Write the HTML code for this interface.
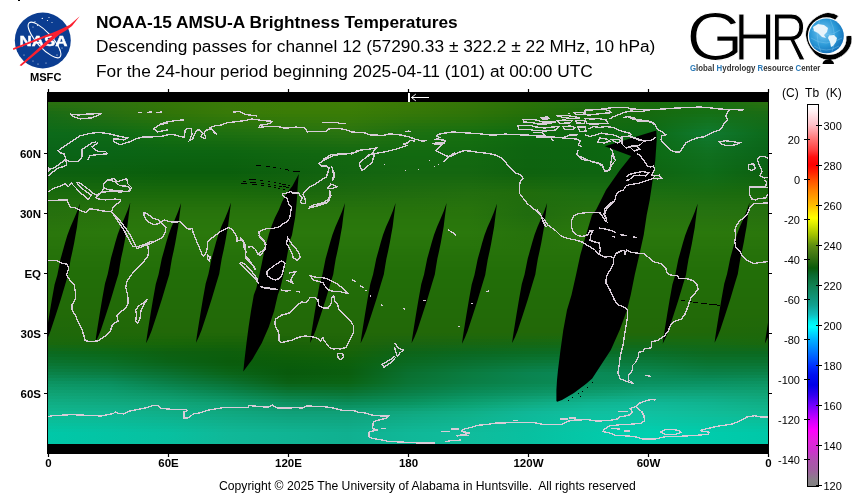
<!DOCTYPE html>
<html><head><meta charset="utf-8"><title>NOAA-15 AMSU-A Brightness Temperatures</title>
<style>
html,body{margin:0;padding:0;background:#fff;}
body{width:854px;height:502px;position:relative;overflow:hidden;font-family:"Liberation Sans",Arial,sans-serif;color:#000;}
.t{position:absolute;white-space:nowrap;font-size:16px;line-height:1;transform-origin:0 0;transform:scaleX(1.081);}
#t1{left:96px;top:15px;font-weight:bold;}
#t2{left:96px;top:39px;}
#t3{left:96px;top:64px;}
#copy{position:absolute;left:219px;top:480px;transform-origin:0 0;transform:scaleX(1.016);font-size:12px;line-height:1;white-space:nowrap;}
svg{position:absolute;left:0;top:0;}
</style></head>
<body>
<svg id="main" width="854" height="502" viewBox="0 0 854 502">
<defs>
<linearGradient id="cbar" x1="0" y1="104.5" x2="0" y2="486.5" gradientUnits="userSpaceOnUse"><stop offset="0.0013" stop-color="#ffffff"/><stop offset="0.0144" stop-color="#fff4f6"/><stop offset="0.0537" stop-color="#ffc0c8"/><stop offset="0.0929" stop-color="#ff7070"/><stop offset="0.1191" stop-color="#ff4040"/><stop offset="0.1374" stop-color="#ff1010"/><stop offset="0.1584" stop-color="#ff0000"/><stop offset="0.1767" stop-color="#ff2000"/><stop offset="0.1976" stop-color="#ff5000"/><stop offset="0.2238" stop-color="#ff8000"/><stop offset="0.2500" stop-color="#ffa800"/><stop offset="0.2657" stop-color="#ffc000"/><stop offset="0.2840" stop-color="#ffe800"/><stop offset="0.2971" stop-color="#ffff00"/><stop offset="0.3154" stop-color="#d8e800"/><stop offset="0.3416" stop-color="#a0c000"/><stop offset="0.3678" stop-color="#609010"/><stop offset="0.3861" stop-color="#4a7c14"/><stop offset="0.4071" stop-color="#2c6a10"/><stop offset="0.4280" stop-color="#0a5a0a"/><stop offset="0.4463" stop-color="#0a6a30"/><stop offset="0.4725" stop-color="#108050"/><stop offset="0.4987" stop-color="#109070"/><stop offset="0.5249" stop-color="#10a090"/><stop offset="0.5510" stop-color="#10c0c0"/><stop offset="0.5694" stop-color="#00f0f0"/><stop offset="0.5825" stop-color="#00ffff"/><stop offset="0.5955" stop-color="#00e0ff"/><stop offset="0.6165" stop-color="#00b0ff"/><stop offset="0.6427" stop-color="#0080ff"/><stop offset="0.6688" stop-color="#0050ff"/><stop offset="0.6846" stop-color="#0030ff"/><stop offset="0.7081" stop-color="#0010f0"/><stop offset="0.7343" stop-color="#0000e8"/><stop offset="0.7605" stop-color="#3000f0"/><stop offset="0.7866" stop-color="#7000ff"/><stop offset="0.7997" stop-color="#9000ff"/><stop offset="0.8259" stop-color="#d000ff"/><stop offset="0.8521" stop-color="#ff00ff"/><stop offset="0.8783" stop-color="#e820e0"/><stop offset="0.9045" stop-color="#d030d0"/><stop offset="0.9306" stop-color="#b050b0"/><stop offset="0.9568" stop-color="#a060a0"/><stop offset="0.9830" stop-color="#888088"/><stop offset="0.9987" stop-color="#808080"/></linearGradient>
<linearGradient id="g0" x1="48" x2="768" y1="0" y2="0" gradientUnits="userSpaceOnUse"><stop offset="0.0000" stop-color="#297010"/><stop offset="0.0833" stop-color="#2e7210"/><stop offset="0.1667" stop-color="#347608"/><stop offset="0.2500" stop-color="#3a7a08"/><stop offset="0.3333" stop-color="#3c7c06"/><stop offset="0.4167" stop-color="#3e7e06"/><stop offset="0.5000" stop-color="#3a7a06"/><stop offset="0.5833" stop-color="#347608"/><stop offset="0.6667" stop-color="#2a7208"/><stop offset="0.7500" stop-color="#207010"/><stop offset="0.8333" stop-color="#1a6c0c"/><stop offset="0.9167" stop-color="#167010"/><stop offset="1.0000" stop-color="#297010"/></linearGradient>
<linearGradient id="g1" x1="48" x2="768" y1="0" y2="0" gradientUnits="userSpaceOnUse"><stop offset="0.0000" stop-color="#246f11"/><stop offset="0.0833" stop-color="#2c7110"/><stop offset="0.1667" stop-color="#337608"/><stop offset="0.2500" stop-color="#397a08"/><stop offset="0.3333" stop-color="#3b7c06"/><stop offset="0.4167" stop-color="#3d7d06"/><stop offset="0.5000" stop-color="#397907"/><stop offset="0.5833" stop-color="#337508"/><stop offset="0.6667" stop-color="#297108"/><stop offset="0.7500" stop-color="#1f6f0f"/><stop offset="0.8333" stop-color="#196b0d"/><stop offset="0.9167" stop-color="#157011"/><stop offset="1.0000" stop-color="#246f11"/></linearGradient>
<linearGradient id="g2" x1="48" x2="768" y1="0" y2="0" gradientUnits="userSpaceOnUse"><stop offset="0.0000" stop-color="#206d13"/><stop offset="0.0833" stop-color="#2a7110"/><stop offset="0.1667" stop-color="#327508"/><stop offset="0.2500" stop-color="#397a08"/><stop offset="0.3333" stop-color="#3b7c06"/><stop offset="0.4167" stop-color="#3b7d06"/><stop offset="0.5000" stop-color="#377907"/><stop offset="0.5833" stop-color="#317508"/><stop offset="0.6667" stop-color="#277108"/><stop offset="0.7500" stop-color="#1d6d0d"/><stop offset="0.8333" stop-color="#176b0d"/><stop offset="0.9167" stop-color="#157013"/><stop offset="1.0000" stop-color="#206d13"/></linearGradient>
<linearGradient id="g3" x1="48" x2="768" y1="0" y2="0" gradientUnits="userSpaceOnUse"><stop offset="0.0000" stop-color="#1b6c14"/><stop offset="0.0833" stop-color="#287010"/><stop offset="0.1667" stop-color="#317508"/><stop offset="0.2500" stop-color="#387a08"/><stop offset="0.3333" stop-color="#3a7c06"/><stop offset="0.4167" stop-color="#3a7c06"/><stop offset="0.5000" stop-color="#367808"/><stop offset="0.5833" stop-color="#307408"/><stop offset="0.6667" stop-color="#267008"/><stop offset="0.7500" stop-color="#1c6c0c"/><stop offset="0.8333" stop-color="#166a0e"/><stop offset="0.9167" stop-color="#147014"/><stop offset="1.0000" stop-color="#1b6c14"/></linearGradient>
<linearGradient id="g4" x1="48" x2="768" y1="0" y2="0" gradientUnits="userSpaceOnUse"><stop offset="0.0000" stop-color="#186c15"/><stop offset="0.0833" stop-color="#256f11"/><stop offset="0.1667" stop-color="#2e7409"/><stop offset="0.2500" stop-color="#357909"/><stop offset="0.3333" stop-color="#377b07"/><stop offset="0.4167" stop-color="#387b07"/><stop offset="0.5000" stop-color="#337709"/><stop offset="0.5833" stop-color="#2d7409"/><stop offset="0.6667" stop-color="#236f09"/><stop offset="0.7500" stop-color="#1a6c0c"/><stop offset="0.8333" stop-color="#156a0f"/><stop offset="0.9167" stop-color="#147118"/><stop offset="1.0000" stop-color="#186c15"/></linearGradient>
<linearGradient id="g5" x1="48" x2="768" y1="0" y2="0" gradientUnits="userSpaceOnUse"><stop offset="0.0000" stop-color="#166b16"/><stop offset="0.0833" stop-color="#216e12"/><stop offset="0.1667" stop-color="#2a740a"/><stop offset="0.2500" stop-color="#31770a"/><stop offset="0.3333" stop-color="#347909"/><stop offset="0.4167" stop-color="#367a09"/><stop offset="0.5000" stop-color="#2f760a"/><stop offset="0.5833" stop-color="#29730a"/><stop offset="0.6667" stop-color="#1f6e0a"/><stop offset="0.7500" stop-color="#186b0d"/><stop offset="0.8333" stop-color="#136a10"/><stop offset="0.9167" stop-color="#13731c"/><stop offset="1.0000" stop-color="#166b16"/></linearGradient>
<linearGradient id="g6" x1="48" x2="768" y1="0" y2="0" gradientUnits="userSpaceOnUse"><stop offset="0.0000" stop-color="#146b17"/><stop offset="0.0833" stop-color="#1d6d13"/><stop offset="0.1667" stop-color="#26730b"/><stop offset="0.2500" stop-color="#2d760b"/><stop offset="0.3333" stop-color="#31780a"/><stop offset="0.4167" stop-color="#33790a"/><stop offset="0.5000" stop-color="#2b750b"/><stop offset="0.5833" stop-color="#25720b"/><stop offset="0.6667" stop-color="#1c6d0b"/><stop offset="0.7500" stop-color="#166a0e"/><stop offset="0.8333" stop-color="#126a11"/><stop offset="0.9167" stop-color="#127420"/><stop offset="1.0000" stop-color="#146b17"/></linearGradient>
<linearGradient id="g7" x1="48" x2="768" y1="0" y2="0" gradientUnits="userSpaceOnUse"><stop offset="0.0000" stop-color="#126b17"/><stop offset="0.0833" stop-color="#196d13"/><stop offset="0.1667" stop-color="#21720d"/><stop offset="0.2500" stop-color="#29740d"/><stop offset="0.3333" stop-color="#2d760c"/><stop offset="0.4167" stop-color="#31770c"/><stop offset="0.5000" stop-color="#27730d"/><stop offset="0.5833" stop-color="#21720d"/><stop offset="0.6667" stop-color="#186d0d"/><stop offset="0.7500" stop-color="#146a0e"/><stop offset="0.8333" stop-color="#106a11"/><stop offset="0.9167" stop-color="#127624"/><stop offset="1.0000" stop-color="#126b17"/></linearGradient>
<linearGradient id="g8" x1="48" x2="768" y1="0" y2="0" gradientUnits="userSpaceOnUse"><stop offset="0.0000" stop-color="#106b18"/><stop offset="0.0833" stop-color="#156c14"/><stop offset="0.1667" stop-color="#1d710e"/><stop offset="0.2500" stop-color="#25730e"/><stop offset="0.3333" stop-color="#2a750d"/><stop offset="0.4167" stop-color="#2e760d"/><stop offset="0.5000" stop-color="#23720e"/><stop offset="0.5833" stop-color="#1d710e"/><stop offset="0.6667" stop-color="#156c0e"/><stop offset="0.7500" stop-color="#12690f"/><stop offset="0.8333" stop-color="#0f6a12"/><stop offset="0.9167" stop-color="#117728"/><stop offset="1.0000" stop-color="#106b18"/></linearGradient>
<linearGradient id="g9" x1="48" x2="768" y1="0" y2="0" gradientUnits="userSpaceOnUse"><stop offset="0.0000" stop-color="#0e6a19"/><stop offset="0.0833" stop-color="#116b15"/><stop offset="0.1667" stop-color="#19710f"/><stop offset="0.2500" stop-color="#21710f"/><stop offset="0.3333" stop-color="#27730f"/><stop offset="0.4167" stop-color="#2c750f"/><stop offset="0.5000" stop-color="#1f710f"/><stop offset="0.5833" stop-color="#19700f"/><stop offset="0.6667" stop-color="#116b0f"/><stop offset="0.7500" stop-color="#106810"/><stop offset="0.8333" stop-color="#0d6a13"/><stop offset="0.9167" stop-color="#10792c"/><stop offset="1.0000" stop-color="#0e6a19"/></linearGradient>
<linearGradient id="g10" x1="48" x2="768" y1="0" y2="0" gradientUnits="userSpaceOnUse"><stop offset="0.0000" stop-color="#0c6a1a"/><stop offset="0.0833" stop-color="#0e6a16"/><stop offset="0.1667" stop-color="#167010"/><stop offset="0.2500" stop-color="#1e7010"/><stop offset="0.3333" stop-color="#247210"/><stop offset="0.4167" stop-color="#297410"/><stop offset="0.5000" stop-color="#1c7010"/><stop offset="0.5833" stop-color="#167010"/><stop offset="0.6667" stop-color="#0e6a10"/><stop offset="0.7500" stop-color="#0e6810"/><stop offset="0.8333" stop-color="#0c6a14"/><stop offset="0.9167" stop-color="#107a30"/><stop offset="1.0000" stop-color="#0c6a1a"/></linearGradient>
<linearGradient id="g11" x1="48" x2="768" y1="0" y2="0" gradientUnits="userSpaceOnUse"><stop offset="0.0000" stop-color="#0c691a"/><stop offset="0.0833" stop-color="#0d6916"/><stop offset="0.1667" stop-color="#146e10"/><stop offset="0.2500" stop-color="#1b6e10"/><stop offset="0.3333" stop-color="#207010"/><stop offset="0.4167" stop-color="#267210"/><stop offset="0.5000" stop-color="#1a6f10"/><stop offset="0.5833" stop-color="#156f10"/><stop offset="0.6667" stop-color="#0e6910"/><stop offset="0.7500" stop-color="#0e6810"/><stop offset="0.8333" stop-color="#0c6a14"/><stop offset="0.9167" stop-color="#10782d"/><stop offset="1.0000" stop-color="#0c691a"/></linearGradient>
<linearGradient id="g12" x1="48" x2="768" y1="0" y2="0" gradientUnits="userSpaceOnUse"><stop offset="0.0000" stop-color="#0b6819"/><stop offset="0.0833" stop-color="#0d6816"/><stop offset="0.1667" stop-color="#126c11"/><stop offset="0.2500" stop-color="#186c10"/><stop offset="0.3333" stop-color="#1e6e10"/><stop offset="0.4167" stop-color="#227010"/><stop offset="0.5000" stop-color="#196e10"/><stop offset="0.5833" stop-color="#156e10"/><stop offset="0.6667" stop-color="#0e6810"/><stop offset="0.7500" stop-color="#0d6710"/><stop offset="0.8333" stop-color="#0c6a13"/><stop offset="0.9167" stop-color="#10772b"/><stop offset="1.0000" stop-color="#0b6819"/></linearGradient>
<linearGradient id="g13" x1="48" x2="768" y1="0" y2="0" gradientUnits="userSpaceOnUse"><stop offset="0.0000" stop-color="#0b6719"/><stop offset="0.0833" stop-color="#0c6716"/><stop offset="0.1667" stop-color="#116a11"/><stop offset="0.2500" stop-color="#156a10"/><stop offset="0.3333" stop-color="#1a6c10"/><stop offset="0.4167" stop-color="#1f6e10"/><stop offset="0.5000" stop-color="#176d10"/><stop offset="0.5833" stop-color="#146d10"/><stop offset="0.6667" stop-color="#0e6710"/><stop offset="0.7500" stop-color="#0d6710"/><stop offset="0.8333" stop-color="#0c6a13"/><stop offset="0.9167" stop-color="#107528"/><stop offset="1.0000" stop-color="#0b6719"/></linearGradient>
<linearGradient id="g14" x1="48" x2="768" y1="0" y2="0" gradientUnits="userSpaceOnUse"><stop offset="0.0000" stop-color="#0b6619"/><stop offset="0.0833" stop-color="#0c6616"/><stop offset="0.1667" stop-color="#0f6811"/><stop offset="0.2500" stop-color="#136810"/><stop offset="0.3333" stop-color="#186a10"/><stop offset="0.4167" stop-color="#1b6c10"/><stop offset="0.5000" stop-color="#166c10"/><stop offset="0.5833" stop-color="#146c10"/><stop offset="0.6667" stop-color="#0e6610"/><stop offset="0.7500" stop-color="#0d6710"/><stop offset="0.8333" stop-color="#0c6a13"/><stop offset="0.9167" stop-color="#107426"/><stop offset="1.0000" stop-color="#0b6619"/></linearGradient>
<linearGradient id="g15" x1="48" x2="768" y1="0" y2="0" gradientUnits="userSpaceOnUse"><stop offset="0.0000" stop-color="#0a6518"/><stop offset="0.0833" stop-color="#0b6516"/><stop offset="0.1667" stop-color="#0d6712"/><stop offset="0.2500" stop-color="#106710"/><stop offset="0.3333" stop-color="#146910"/><stop offset="0.4167" stop-color="#176b10"/><stop offset="0.5000" stop-color="#146b10"/><stop offset="0.5833" stop-color="#136b10"/><stop offset="0.6667" stop-color="#0e6510"/><stop offset="0.7500" stop-color="#0c6610"/><stop offset="0.8333" stop-color="#0c6a12"/><stop offset="0.9167" stop-color="#107224"/><stop offset="1.0000" stop-color="#0a6518"/></linearGradient>
<linearGradient id="g16" x1="48" x2="768" y1="0" y2="0" gradientUnits="userSpaceOnUse"><stop offset="0.0000" stop-color="#0a6418"/><stop offset="0.0833" stop-color="#0a6416"/><stop offset="0.1667" stop-color="#0c6512"/><stop offset="0.2500" stop-color="#0d6510"/><stop offset="0.3333" stop-color="#126710"/><stop offset="0.4167" stop-color="#146910"/><stop offset="0.5000" stop-color="#136a10"/><stop offset="0.5833" stop-color="#126a10"/><stop offset="0.6667" stop-color="#0e6410"/><stop offset="0.7500" stop-color="#0c6610"/><stop offset="0.8333" stop-color="#0c6a12"/><stop offset="0.9167" stop-color="#107121"/><stop offset="1.0000" stop-color="#0a6418"/></linearGradient>
<linearGradient id="g17" x1="48" x2="768" y1="0" y2="0" gradientUnits="userSpaceOnUse"><stop offset="0.0000" stop-color="#0a6417"/><stop offset="0.0833" stop-color="#0a6415"/><stop offset="0.1667" stop-color="#0b6412"/><stop offset="0.2500" stop-color="#0c6410"/><stop offset="0.3333" stop-color="#106610"/><stop offset="0.4167" stop-color="#126810"/><stop offset="0.5000" stop-color="#126a10"/><stop offset="0.5833" stop-color="#126a10"/><stop offset="0.6667" stop-color="#0e6410"/><stop offset="0.7500" stop-color="#0c6610"/><stop offset="0.8333" stop-color="#0c6a12"/><stop offset="0.9167" stop-color="#10701f"/><stop offset="1.0000" stop-color="#0a6417"/></linearGradient>
<linearGradient id="g18" x1="48" x2="768" y1="0" y2="0" gradientUnits="userSpaceOnUse"><stop offset="0.0000" stop-color="#0a6316"/><stop offset="0.0833" stop-color="#0a6314"/><stop offset="0.1667" stop-color="#0b6311"/><stop offset="0.2500" stop-color="#0c630f"/><stop offset="0.3333" stop-color="#106510"/><stop offset="0.4167" stop-color="#126710"/><stop offset="0.5000" stop-color="#126910"/><stop offset="0.5833" stop-color="#126910"/><stop offset="0.6667" stop-color="#0e6410"/><stop offset="0.7500" stop-color="#0c6610"/><stop offset="0.8333" stop-color="#0c6912"/><stop offset="0.9167" stop-color="#106f1e"/><stop offset="1.0000" stop-color="#0a6316"/></linearGradient>
<linearGradient id="g19" x1="48" x2="768" y1="0" y2="0" gradientUnits="userSpaceOnUse"><stop offset="0.0000" stop-color="#0b6215"/><stop offset="0.0833" stop-color="#0a6213"/><stop offset="0.1667" stop-color="#0b6210"/><stop offset="0.2500" stop-color="#0b620e"/><stop offset="0.3333" stop-color="#0f640f"/><stop offset="0.4167" stop-color="#126610"/><stop offset="0.5000" stop-color="#136810"/><stop offset="0.5833" stop-color="#136810"/><stop offset="0.6667" stop-color="#0e630f"/><stop offset="0.7500" stop-color="#0d6510"/><stop offset="0.8333" stop-color="#0d6811"/><stop offset="0.9167" stop-color="#0f6e1d"/><stop offset="1.0000" stop-color="#0b6215"/></linearGradient>
<linearGradient id="g20" x1="48" x2="768" y1="0" y2="0" gradientUnits="userSpaceOnUse"><stop offset="0.0000" stop-color="#0b6214"/><stop offset="0.0833" stop-color="#0b6212"/><stop offset="0.1667" stop-color="#0a610f"/><stop offset="0.2500" stop-color="#0b610e"/><stop offset="0.3333" stop-color="#0f630f"/><stop offset="0.4167" stop-color="#126610"/><stop offset="0.5000" stop-color="#136810"/><stop offset="0.5833" stop-color="#136810"/><stop offset="0.6667" stop-color="#0e630f"/><stop offset="0.7500" stop-color="#0d6510"/><stop offset="0.8333" stop-color="#0d6711"/><stop offset="0.9167" stop-color="#0f6e1c"/><stop offset="1.0000" stop-color="#0b6214"/></linearGradient>
<linearGradient id="g21" x1="48" x2="768" y1="0" y2="0" gradientUnits="userSpaceOnUse"><stop offset="0.0000" stop-color="#0b6113"/><stop offset="0.0833" stop-color="#0b6111"/><stop offset="0.1667" stop-color="#0a600e"/><stop offset="0.2500" stop-color="#0b600d"/><stop offset="0.3333" stop-color="#0f620f"/><stop offset="0.4167" stop-color="#126510"/><stop offset="0.5000" stop-color="#136710"/><stop offset="0.5833" stop-color="#136710"/><stop offset="0.6667" stop-color="#0e630f"/><stop offset="0.7500" stop-color="#0d6510"/><stop offset="0.8333" stop-color="#0d6611"/><stop offset="0.9167" stop-color="#0f6d1b"/><stop offset="1.0000" stop-color="#0b6113"/></linearGradient>
<linearGradient id="g22" x1="48" x2="768" y1="0" y2="0" gradientUnits="userSpaceOnUse"><stop offset="0.0000" stop-color="#0c6111"/><stop offset="0.0833" stop-color="#0b610f"/><stop offset="0.1667" stop-color="#0a5f0d"/><stop offset="0.2500" stop-color="#0a5f0d"/><stop offset="0.3333" stop-color="#0e610e"/><stop offset="0.4167" stop-color="#126510"/><stop offset="0.5000" stop-color="#146710"/><stop offset="0.5833" stop-color="#146710"/><stop offset="0.6667" stop-color="#0e620e"/><stop offset="0.7500" stop-color="#0e6410"/><stop offset="0.8333" stop-color="#0e6510"/><stop offset="0.9167" stop-color="#0e6d19"/><stop offset="1.0000" stop-color="#0c6111"/></linearGradient>
<linearGradient id="g23" x1="48" x2="768" y1="0" y2="0" gradientUnits="userSpaceOnUse"><stop offset="0.0000" stop-color="#0c6010"/><stop offset="0.0833" stop-color="#0b600e"/><stop offset="0.1667" stop-color="#0a5e0c"/><stop offset="0.2500" stop-color="#0a5e0c"/><stop offset="0.3333" stop-color="#0e600e"/><stop offset="0.4167" stop-color="#126410"/><stop offset="0.5000" stop-color="#146610"/><stop offset="0.5833" stop-color="#146610"/><stop offset="0.6667" stop-color="#0e620e"/><stop offset="0.7500" stop-color="#0e6410"/><stop offset="0.8333" stop-color="#0e6410"/><stop offset="0.9167" stop-color="#0e6c18"/><stop offset="1.0000" stop-color="#0c6010"/></linearGradient>
<linearGradient id="g24" x1="48" x2="768" y1="0" y2="0" gradientUnits="userSpaceOnUse"><stop offset="0.0000" stop-color="#0e6110"/><stop offset="0.0833" stop-color="#0d610e"/><stop offset="0.1667" stop-color="#0c600c"/><stop offset="0.2500" stop-color="#0c600c"/><stop offset="0.3333" stop-color="#10610e"/><stop offset="0.4167" stop-color="#146510"/><stop offset="0.5000" stop-color="#166710"/><stop offset="0.5833" stop-color="#166710"/><stop offset="0.6667" stop-color="#10630e"/><stop offset="0.7500" stop-color="#106510"/><stop offset="0.8333" stop-color="#106510"/><stop offset="0.9167" stop-color="#106c17"/><stop offset="1.0000" stop-color="#0e6110"/></linearGradient>
<linearGradient id="g25" x1="48" x2="768" y1="0" y2="0" gradientUnits="userSpaceOnUse"><stop offset="0.0000" stop-color="#10630f"/><stop offset="0.0833" stop-color="#0f630d"/><stop offset="0.1667" stop-color="#0e610b"/><stop offset="0.2500" stop-color="#0e610b"/><stop offset="0.3333" stop-color="#11620d"/><stop offset="0.4167" stop-color="#15660f"/><stop offset="0.5000" stop-color="#17680f"/><stop offset="0.5833" stop-color="#18680f"/><stop offset="0.6667" stop-color="#13650d"/><stop offset="0.7500" stop-color="#126710"/><stop offset="0.8333" stop-color="#126710"/><stop offset="0.9167" stop-color="#116c16"/><stop offset="1.0000" stop-color="#10630f"/></linearGradient>
<linearGradient id="g26" x1="48" x2="768" y1="0" y2="0" gradientUnits="userSpaceOnUse"><stop offset="0.0000" stop-color="#12640e"/><stop offset="0.0833" stop-color="#11640d"/><stop offset="0.1667" stop-color="#11630b"/><stop offset="0.2500" stop-color="#11630b"/><stop offset="0.3333" stop-color="#13630d"/><stop offset="0.4167" stop-color="#17670f"/><stop offset="0.5000" stop-color="#19690f"/><stop offset="0.5833" stop-color="#1a690f"/><stop offset="0.6667" stop-color="#16660d"/><stop offset="0.7500" stop-color="#146810"/><stop offset="0.8333" stop-color="#146810"/><stop offset="0.9167" stop-color="#136c15"/><stop offset="1.0000" stop-color="#12640e"/></linearGradient>
<linearGradient id="g27" x1="48" x2="768" y1="0" y2="0" gradientUnits="userSpaceOnUse"><stop offset="0.0000" stop-color="#14660e"/><stop offset="0.0833" stop-color="#14660d"/><stop offset="0.1667" stop-color="#13650b"/><stop offset="0.2500" stop-color="#13650b"/><stop offset="0.3333" stop-color="#15650d"/><stop offset="0.4167" stop-color="#19670f"/><stop offset="0.5000" stop-color="#1b690f"/><stop offset="0.5833" stop-color="#1c6b0f"/><stop offset="0.6667" stop-color="#18680d"/><stop offset="0.7500" stop-color="#166a10"/><stop offset="0.8333" stop-color="#166a10"/><stop offset="0.9167" stop-color="#156c13"/><stop offset="1.0000" stop-color="#14660e"/></linearGradient>
<linearGradient id="g28" x1="48" x2="768" y1="0" y2="0" gradientUnits="userSpaceOnUse"><stop offset="0.0000" stop-color="#16670d"/><stop offset="0.0833" stop-color="#16670d"/><stop offset="0.1667" stop-color="#16670b"/><stop offset="0.2500" stop-color="#16670b"/><stop offset="0.3333" stop-color="#17660d"/><stop offset="0.4167" stop-color="#1b680f"/><stop offset="0.5000" stop-color="#1d6a0f"/><stop offset="0.5833" stop-color="#1e6c0f"/><stop offset="0.6667" stop-color="#1b690d"/><stop offset="0.7500" stop-color="#186b10"/><stop offset="0.8333" stop-color="#186b10"/><stop offset="0.9167" stop-color="#176c12"/><stop offset="1.0000" stop-color="#16670d"/></linearGradient>
<linearGradient id="g29" x1="48" x2="768" y1="0" y2="0" gradientUnits="userSpaceOnUse"><stop offset="0.0000" stop-color="#18690c"/><stop offset="0.0833" stop-color="#18690c"/><stop offset="0.1667" stop-color="#18680a"/><stop offset="0.2500" stop-color="#18680a"/><stop offset="0.3333" stop-color="#18670c"/><stop offset="0.4167" stop-color="#1c690e"/><stop offset="0.5000" stop-color="#1e6b0e"/><stop offset="0.5833" stop-color="#206d0e"/><stop offset="0.6667" stop-color="#1e6b0c"/><stop offset="0.7500" stop-color="#1a6d10"/><stop offset="0.8333" stop-color="#1a6d10"/><stop offset="0.9167" stop-color="#186c11"/><stop offset="1.0000" stop-color="#18690c"/></linearGradient>
<linearGradient id="g30" x1="48" x2="768" y1="0" y2="0" gradientUnits="userSpaceOnUse"><stop offset="0.0000" stop-color="#1a6a0c"/><stop offset="0.0833" stop-color="#1a6a0c"/><stop offset="0.1667" stop-color="#1a6a0a"/><stop offset="0.2500" stop-color="#1a6a0a"/><stop offset="0.3333" stop-color="#1a680c"/><stop offset="0.4167" stop-color="#1e6a0e"/><stop offset="0.5000" stop-color="#206c0e"/><stop offset="0.5833" stop-color="#226e0e"/><stop offset="0.6667" stop-color="#206c0c"/><stop offset="0.7500" stop-color="#1c6e10"/><stop offset="0.8333" stop-color="#1c6e10"/><stop offset="0.9167" stop-color="#1a6c10"/><stop offset="1.0000" stop-color="#1a6a0c"/></linearGradient>
<linearGradient id="g31" x1="48" x2="768" y1="0" y2="0" gradientUnits="userSpaceOnUse"><stop offset="0.0000" stop-color="#1c6b0c"/><stop offset="0.0833" stop-color="#1c6b0c"/><stop offset="0.1667" stop-color="#1c6c0a"/><stop offset="0.2500" stop-color="#1c6c0a"/><stop offset="0.3333" stop-color="#1c6a0c"/><stop offset="0.4167" stop-color="#206c0e"/><stop offset="0.5000" stop-color="#216d0e"/><stop offset="0.5833" stop-color="#236f0e"/><stop offset="0.6667" stop-color="#206c0c"/><stop offset="0.7500" stop-color="#1e6f10"/><stop offset="0.8333" stop-color="#1e6f10"/><stop offset="0.9167" stop-color="#1c6d10"/><stop offset="1.0000" stop-color="#1c6b0c"/></linearGradient>
<linearGradient id="g32" x1="48" x2="768" y1="0" y2="0" gradientUnits="userSpaceOnUse"><stop offset="0.0000" stop-color="#1e6c0d"/><stop offset="0.0833" stop-color="#1f6d0c"/><stop offset="0.1667" stop-color="#1f6d0b"/><stop offset="0.2500" stop-color="#1f6d0b"/><stop offset="0.3333" stop-color="#1f6c0c"/><stop offset="0.4167" stop-color="#216d0d"/><stop offset="0.5000" stop-color="#236f0d"/><stop offset="0.5833" stop-color="#24700d"/><stop offset="0.6667" stop-color="#206c0d"/><stop offset="0.7500" stop-color="#1f6f0f"/><stop offset="0.8333" stop-color="#206f0f"/><stop offset="0.9167" stop-color="#1e6e10"/><stop offset="1.0000" stop-color="#1e6c0d"/></linearGradient>
<linearGradient id="g33" x1="48" x2="768" y1="0" y2="0" gradientUnits="userSpaceOnUse"><stop offset="0.0000" stop-color="#206d0d"/><stop offset="0.0833" stop-color="#216e0c"/><stop offset="0.1667" stop-color="#216f0b"/><stop offset="0.2500" stop-color="#216f0b"/><stop offset="0.3333" stop-color="#216e0c"/><stop offset="0.4167" stop-color="#236f0d"/><stop offset="0.5000" stop-color="#24700d"/><stop offset="0.5833" stop-color="#25710d"/><stop offset="0.6667" stop-color="#206c0d"/><stop offset="0.7500" stop-color="#21700f"/><stop offset="0.8333" stop-color="#22700f"/><stop offset="0.9167" stop-color="#206f10"/><stop offset="1.0000" stop-color="#206d0d"/></linearGradient>
<linearGradient id="g34" x1="48" x2="768" y1="0" y2="0" gradientUnits="userSpaceOnUse"><stop offset="0.0000" stop-color="#226e0d"/><stop offset="0.0833" stop-color="#236f0c"/><stop offset="0.1667" stop-color="#23700b"/><stop offset="0.2500" stop-color="#23700b"/><stop offset="0.3333" stop-color="#23700c"/><stop offset="0.4167" stop-color="#24700d"/><stop offset="0.5000" stop-color="#25710d"/><stop offset="0.5833" stop-color="#26720d"/><stop offset="0.6667" stop-color="#206c0d"/><stop offset="0.7500" stop-color="#22700f"/><stop offset="0.8333" stop-color="#24700f"/><stop offset="0.9167" stop-color="#227010"/><stop offset="1.0000" stop-color="#226e0d"/></linearGradient>
<linearGradient id="g35" x1="48" x2="768" y1="0" y2="0" gradientUnits="userSpaceOnUse"><stop offset="0.0000" stop-color="#236f0e"/><stop offset="0.0833" stop-color="#25700c"/><stop offset="0.1667" stop-color="#25720c"/><stop offset="0.2500" stop-color="#25720c"/><stop offset="0.3333" stop-color="#25710c"/><stop offset="0.4167" stop-color="#26720c"/><stop offset="0.5000" stop-color="#26720c"/><stop offset="0.5833" stop-color="#27730c"/><stop offset="0.6667" stop-color="#206c0e"/><stop offset="0.7500" stop-color="#24710e"/><stop offset="0.8333" stop-color="#25710e"/><stop offset="0.9167" stop-color="#237110"/><stop offset="1.0000" stop-color="#236f0e"/></linearGradient>
<linearGradient id="g36" x1="48" x2="768" y1="0" y2="0" gradientUnits="userSpaceOnUse"><stop offset="0.0000" stop-color="#25700e"/><stop offset="0.0833" stop-color="#27710c"/><stop offset="0.1667" stop-color="#27730c"/><stop offset="0.2500" stop-color="#27730c"/><stop offset="0.3333" stop-color="#27730c"/><stop offset="0.4167" stop-color="#27730c"/><stop offset="0.5000" stop-color="#27730c"/><stop offset="0.5833" stop-color="#28740c"/><stop offset="0.6667" stop-color="#206c0e"/><stop offset="0.7500" stop-color="#25720e"/><stop offset="0.8333" stop-color="#27720e"/><stop offset="0.9167" stop-color="#257210"/><stop offset="1.0000" stop-color="#25700e"/></linearGradient>
<linearGradient id="g37" x1="48" x2="768" y1="0" y2="0" gradientUnits="userSpaceOnUse"><stop offset="0.0000" stop-color="#26700e"/><stop offset="0.0833" stop-color="#28720c"/><stop offset="0.1667" stop-color="#28740c"/><stop offset="0.2500" stop-color="#28740c"/><stop offset="0.3333" stop-color="#28740c"/><stop offset="0.4167" stop-color="#28740c"/><stop offset="0.5000" stop-color="#28740c"/><stop offset="0.5833" stop-color="#28740c"/><stop offset="0.6667" stop-color="#206c0e"/><stop offset="0.7500" stop-color="#26720e"/><stop offset="0.8333" stop-color="#28720e"/><stop offset="0.9167" stop-color="#267210"/><stop offset="1.0000" stop-color="#26700e"/></linearGradient>
<linearGradient id="g38" x1="48" x2="768" y1="0" y2="0" gradientUnits="userSpaceOnUse"><stop offset="0.0000" stop-color="#27710e"/><stop offset="0.0833" stop-color="#28730c"/><stop offset="0.1667" stop-color="#28750c"/><stop offset="0.2500" stop-color="#28750c"/><stop offset="0.3333" stop-color="#28750c"/><stop offset="0.4167" stop-color="#28750c"/><stop offset="0.5000" stop-color="#28750c"/><stop offset="0.5833" stop-color="#28750c"/><stop offset="0.6667" stop-color="#216d0e"/><stop offset="0.7500" stop-color="#27730e"/><stop offset="0.8333" stop-color="#28730e"/><stop offset="0.9167" stop-color="#27730f"/><stop offset="1.0000" stop-color="#27710e"/></linearGradient>
<linearGradient id="g39" x1="48" x2="768" y1="0" y2="0" gradientUnits="userSpaceOnUse"><stop offset="0.0000" stop-color="#28720d"/><stop offset="0.0833" stop-color="#29740c"/><stop offset="0.1667" stop-color="#29760c"/><stop offset="0.2500" stop-color="#29760c"/><stop offset="0.3333" stop-color="#29760c"/><stop offset="0.4167" stop-color="#29760c"/><stop offset="0.5000" stop-color="#29760c"/><stop offset="0.5833" stop-color="#29760c"/><stop offset="0.6667" stop-color="#226e0d"/><stop offset="0.7500" stop-color="#28740d"/><stop offset="0.8333" stop-color="#29740d"/><stop offset="0.9167" stop-color="#28740e"/><stop offset="1.0000" stop-color="#28720d"/></linearGradient>
<linearGradient id="g40" x1="48" x2="768" y1="0" y2="0" gradientUnits="userSpaceOnUse"><stop offset="0.0000" stop-color="#28730d"/><stop offset="0.0833" stop-color="#29750c"/><stop offset="0.1667" stop-color="#29760c"/><stop offset="0.2500" stop-color="#29760c"/><stop offset="0.3333" stop-color="#29760c"/><stop offset="0.4167" stop-color="#29760c"/><stop offset="0.5000" stop-color="#29760c"/><stop offset="0.5833" stop-color="#29760c"/><stop offset="0.6667" stop-color="#236f0d"/><stop offset="0.7500" stop-color="#28750d"/><stop offset="0.8333" stop-color="#29750d"/><stop offset="0.9167" stop-color="#28750e"/><stop offset="1.0000" stop-color="#28730d"/></linearGradient>
<linearGradient id="g41" x1="48" x2="768" y1="0" y2="0" gradientUnits="userSpaceOnUse"><stop offset="0.0000" stop-color="#29740d"/><stop offset="0.0833" stop-color="#29760c"/><stop offset="0.1667" stop-color="#29770c"/><stop offset="0.2500" stop-color="#29770c"/><stop offset="0.3333" stop-color="#29770c"/><stop offset="0.4167" stop-color="#29770c"/><stop offset="0.5000" stop-color="#29770c"/><stop offset="0.5833" stop-color="#29770c"/><stop offset="0.6667" stop-color="#24700d"/><stop offset="0.7500" stop-color="#29760d"/><stop offset="0.8333" stop-color="#29760d"/><stop offset="0.9167" stop-color="#29760d"/><stop offset="1.0000" stop-color="#29740d"/></linearGradient>
<linearGradient id="g42" x1="48" x2="768" y1="0" y2="0" gradientUnits="userSpaceOnUse"><stop offset="0.0000" stop-color="#29750c"/><stop offset="0.0833" stop-color="#2a770c"/><stop offset="0.1667" stop-color="#2a770c"/><stop offset="0.2500" stop-color="#2a770c"/><stop offset="0.3333" stop-color="#2a770c"/><stop offset="0.4167" stop-color="#2a770c"/><stop offset="0.5000" stop-color="#2a770c"/><stop offset="0.5833" stop-color="#2a770c"/><stop offset="0.6667" stop-color="#25710c"/><stop offset="0.7500" stop-color="#29770c"/><stop offset="0.8333" stop-color="#2a770c"/><stop offset="0.9167" stop-color="#29770d"/><stop offset="1.0000" stop-color="#29750c"/></linearGradient>
<linearGradient id="g43" x1="48" x2="768" y1="0" y2="0" gradientUnits="userSpaceOnUse"><stop offset="0.0000" stop-color="#2a760c"/><stop offset="0.0833" stop-color="#2a780c"/><stop offset="0.1667" stop-color="#2a780c"/><stop offset="0.2500" stop-color="#2a780c"/><stop offset="0.3333" stop-color="#2a780c"/><stop offset="0.4167" stop-color="#2a780c"/><stop offset="0.5000" stop-color="#2a780c"/><stop offset="0.5833" stop-color="#2a780c"/><stop offset="0.6667" stop-color="#26720c"/><stop offset="0.7500" stop-color="#2a780c"/><stop offset="0.8333" stop-color="#2a780c"/><stop offset="0.9167" stop-color="#2a780c"/><stop offset="1.0000" stop-color="#2a760c"/></linearGradient>
<linearGradient id="g44" x1="48" x2="768" y1="0" y2="0" gradientUnits="userSpaceOnUse"><stop offset="0.0000" stop-color="#2a760c"/><stop offset="0.0833" stop-color="#2a770c"/><stop offset="0.1667" stop-color="#2a770c"/><stop offset="0.2500" stop-color="#2a770c"/><stop offset="0.3333" stop-color="#2a770c"/><stop offset="0.4167" stop-color="#2a770c"/><stop offset="0.5000" stop-color="#2a770c"/><stop offset="0.5833" stop-color="#2a770c"/><stop offset="0.6667" stop-color="#26720c"/><stop offset="0.7500" stop-color="#2a770c"/><stop offset="0.8333" stop-color="#2a770c"/><stop offset="0.9167" stop-color="#2a770c"/><stop offset="1.0000" stop-color="#2a760c"/></linearGradient>
<linearGradient id="g45" x1="48" x2="768" y1="0" y2="0" gradientUnits="userSpaceOnUse"><stop offset="0.0000" stop-color="#29750b"/><stop offset="0.0833" stop-color="#29760b"/><stop offset="0.1667" stop-color="#29760b"/><stop offset="0.2500" stop-color="#29760b"/><stop offset="0.3333" stop-color="#29760b"/><stop offset="0.4167" stop-color="#29760b"/><stop offset="0.5000" stop-color="#29760b"/><stop offset="0.5833" stop-color="#29760b"/><stop offset="0.6667" stop-color="#26720b"/><stop offset="0.7500" stop-color="#29760b"/><stop offset="0.8333" stop-color="#29760b"/><stop offset="0.9167" stop-color="#29760b"/><stop offset="1.0000" stop-color="#29750b"/></linearGradient>
<linearGradient id="g46" x1="48" x2="768" y1="0" y2="0" gradientUnits="userSpaceOnUse"><stop offset="0.0000" stop-color="#28740b"/><stop offset="0.0833" stop-color="#28750b"/><stop offset="0.1667" stop-color="#28750b"/><stop offset="0.2500" stop-color="#28750b"/><stop offset="0.3333" stop-color="#28750b"/><stop offset="0.4167" stop-color="#28750b"/><stop offset="0.5000" stop-color="#28750b"/><stop offset="0.5833" stop-color="#28750b"/><stop offset="0.6667" stop-color="#26720b"/><stop offset="0.7500" stop-color="#28750b"/><stop offset="0.8333" stop-color="#28750b"/><stop offset="0.9167" stop-color="#28750b"/><stop offset="1.0000" stop-color="#28740b"/></linearGradient>
<linearGradient id="g47" x1="48" x2="768" y1="0" y2="0" gradientUnits="userSpaceOnUse"><stop offset="0.0000" stop-color="#28740b"/><stop offset="0.0833" stop-color="#28750b"/><stop offset="0.1667" stop-color="#28750b"/><stop offset="0.2500" stop-color="#28750b"/><stop offset="0.3333" stop-color="#28750b"/><stop offset="0.4167" stop-color="#28750b"/><stop offset="0.5000" stop-color="#28750b"/><stop offset="0.5833" stop-color="#28750b"/><stop offset="0.6667" stop-color="#26720b"/><stop offset="0.7500" stop-color="#28750b"/><stop offset="0.8333" stop-color="#28750b"/><stop offset="0.9167" stop-color="#28750b"/><stop offset="1.0000" stop-color="#28740b"/></linearGradient>
<linearGradient id="g48" x1="48" x2="768" y1="0" y2="0" gradientUnits="userSpaceOnUse"><stop offset="0.0000" stop-color="#27730b"/><stop offset="0.0833" stop-color="#27740b"/><stop offset="0.1667" stop-color="#27740b"/><stop offset="0.2500" stop-color="#27740b"/><stop offset="0.3333" stop-color="#27740b"/><stop offset="0.4167" stop-color="#27740b"/><stop offset="0.5000" stop-color="#27740b"/><stop offset="0.5833" stop-color="#27740b"/><stop offset="0.6667" stop-color="#26720b"/><stop offset="0.7500" stop-color="#27740b"/><stop offset="0.8333" stop-color="#27740b"/><stop offset="0.9167" stop-color="#27740b"/><stop offset="1.0000" stop-color="#27730b"/></linearGradient>
<linearGradient id="g49" x1="48" x2="768" y1="0" y2="0" gradientUnits="userSpaceOnUse"><stop offset="0.0000" stop-color="#26720a"/><stop offset="0.0833" stop-color="#26730a"/><stop offset="0.1667" stop-color="#26730a"/><stop offset="0.2500" stop-color="#26730a"/><stop offset="0.3333" stop-color="#26730a"/><stop offset="0.4167" stop-color="#26730a"/><stop offset="0.5000" stop-color="#26730a"/><stop offset="0.5833" stop-color="#26730a"/><stop offset="0.6667" stop-color="#26720a"/><stop offset="0.7500" stop-color="#26730a"/><stop offset="0.8333" stop-color="#26730a"/><stop offset="0.9167" stop-color="#26730a"/><stop offset="1.0000" stop-color="#26720a"/></linearGradient>
<linearGradient id="g50" x1="48" x2="768" y1="0" y2="0" gradientUnits="userSpaceOnUse"><stop offset="0.0000" stop-color="#26720a"/><stop offset="0.0833" stop-color="#26720a"/><stop offset="0.1667" stop-color="#26720a"/><stop offset="0.2500" stop-color="#26720a"/><stop offset="0.3333" stop-color="#26720a"/><stop offset="0.4167" stop-color="#26720a"/><stop offset="0.5000" stop-color="#26720a"/><stop offset="0.5833" stop-color="#26720a"/><stop offset="0.6667" stop-color="#26720a"/><stop offset="0.7500" stop-color="#26720a"/><stop offset="0.8333" stop-color="#26720a"/><stop offset="0.9167" stop-color="#26720a"/><stop offset="1.0000" stop-color="#26720a"/></linearGradient>
<linearGradient id="g51" x1="48" x2="768" y1="0" y2="0" gradientUnits="userSpaceOnUse"><stop offset="0.0000" stop-color="#25710a"/><stop offset="0.0833" stop-color="#25710a"/><stop offset="0.1667" stop-color="#25710a"/><stop offset="0.2500" stop-color="#25710a"/><stop offset="0.3333" stop-color="#25710a"/><stop offset="0.4167" stop-color="#25710a"/><stop offset="0.5000" stop-color="#25710a"/><stop offset="0.5833" stop-color="#25710a"/><stop offset="0.6667" stop-color="#25710a"/><stop offset="0.7500" stop-color="#25710a"/><stop offset="0.8333" stop-color="#25710a"/><stop offset="0.9167" stop-color="#25710a"/><stop offset="1.0000" stop-color="#25710a"/></linearGradient>
<linearGradient id="g52" x1="48" x2="768" y1="0" y2="0" gradientUnits="userSpaceOnUse"><stop offset="0.0000" stop-color="#257109"/><stop offset="0.0833" stop-color="#257109"/><stop offset="0.1667" stop-color="#257109"/><stop offset="0.2500" stop-color="#257109"/><stop offset="0.3333" stop-color="#257109"/><stop offset="0.4167" stop-color="#257109"/><stop offset="0.5000" stop-color="#257109"/><stop offset="0.5833" stop-color="#257109"/><stop offset="0.6667" stop-color="#257109"/><stop offset="0.7500" stop-color="#257109"/><stop offset="0.8333" stop-color="#257109"/><stop offset="0.9167" stop-color="#257109"/><stop offset="1.0000" stop-color="#257109"/></linearGradient>
<linearGradient id="g53" x1="48" x2="768" y1="0" y2="0" gradientUnits="userSpaceOnUse"><stop offset="0.0000" stop-color="#247009"/><stop offset="0.0833" stop-color="#247009"/><stop offset="0.1667" stop-color="#247009"/><stop offset="0.2500" stop-color="#247009"/><stop offset="0.3333" stop-color="#247009"/><stop offset="0.4167" stop-color="#247009"/><stop offset="0.5000" stop-color="#247009"/><stop offset="0.5833" stop-color="#247009"/><stop offset="0.6667" stop-color="#247009"/><stop offset="0.7500" stop-color="#247009"/><stop offset="0.8333" stop-color="#247009"/><stop offset="0.9167" stop-color="#247009"/><stop offset="1.0000" stop-color="#247009"/></linearGradient>
<linearGradient id="g54" x1="48" x2="768" y1="0" y2="0" gradientUnits="userSpaceOnUse"><stop offset="0.0000" stop-color="#247009"/><stop offset="0.0833" stop-color="#247009"/><stop offset="0.1667" stop-color="#247009"/><stop offset="0.2500" stop-color="#247009"/><stop offset="0.3333" stop-color="#247009"/><stop offset="0.4167" stop-color="#247009"/><stop offset="0.5000" stop-color="#247009"/><stop offset="0.5833" stop-color="#247009"/><stop offset="0.6667" stop-color="#247009"/><stop offset="0.7500" stop-color="#247009"/><stop offset="0.8333" stop-color="#247009"/><stop offset="0.9167" stop-color="#247009"/><stop offset="1.0000" stop-color="#247009"/></linearGradient>
<linearGradient id="g55" x1="48" x2="768" y1="0" y2="0" gradientUnits="userSpaceOnUse"><stop offset="0.0000" stop-color="#236f08"/><stop offset="0.0833" stop-color="#236f08"/><stop offset="0.1667" stop-color="#236f08"/><stop offset="0.2500" stop-color="#236f08"/><stop offset="0.3333" stop-color="#236f08"/><stop offset="0.4167" stop-color="#236f08"/><stop offset="0.5000" stop-color="#236f08"/><stop offset="0.5833" stop-color="#236f08"/><stop offset="0.6667" stop-color="#236f08"/><stop offset="0.7500" stop-color="#236f08"/><stop offset="0.8333" stop-color="#236f08"/><stop offset="0.9167" stop-color="#236f08"/><stop offset="1.0000" stop-color="#236f08"/></linearGradient>
<linearGradient id="g56" x1="48" x2="768" y1="0" y2="0" gradientUnits="userSpaceOnUse"><stop offset="0.0000" stop-color="#226e08"/><stop offset="0.0833" stop-color="#226e08"/><stop offset="0.1667" stop-color="#226e08"/><stop offset="0.2500" stop-color="#226e08"/><stop offset="0.3333" stop-color="#226e08"/><stop offset="0.4167" stop-color="#226e08"/><stop offset="0.5000" stop-color="#226e08"/><stop offset="0.5833" stop-color="#226e08"/><stop offset="0.6667" stop-color="#226e08"/><stop offset="0.7500" stop-color="#226e08"/><stop offset="0.8333" stop-color="#226e08"/><stop offset="0.9167" stop-color="#226e08"/><stop offset="1.0000" stop-color="#226e08"/></linearGradient>
<linearGradient id="g57" x1="48" x2="768" y1="0" y2="0" gradientUnits="userSpaceOnUse"><stop offset="0.0000" stop-color="#226e08"/><stop offset="0.0833" stop-color="#226e08"/><stop offset="0.1667" stop-color="#226e08"/><stop offset="0.2500" stop-color="#226e08"/><stop offset="0.3333" stop-color="#226e08"/><stop offset="0.4167" stop-color="#226e08"/><stop offset="0.5000" stop-color="#226e08"/><stop offset="0.5833" stop-color="#226e08"/><stop offset="0.6667" stop-color="#226e08"/><stop offset="0.7500" stop-color="#226e08"/><stop offset="0.8333" stop-color="#226e08"/><stop offset="0.9167" stop-color="#226e08"/><stop offset="1.0000" stop-color="#226e08"/></linearGradient>
<linearGradient id="g58" x1="48" x2="768" y1="0" y2="0" gradientUnits="userSpaceOnUse"><stop offset="0.0000" stop-color="#226e08"/><stop offset="0.0833" stop-color="#226e08"/><stop offset="0.1667" stop-color="#226e08"/><stop offset="0.2500" stop-color="#226e08"/><stop offset="0.3333" stop-color="#226e08"/><stop offset="0.4167" stop-color="#226e08"/><stop offset="0.5000" stop-color="#226e08"/><stop offset="0.5833" stop-color="#226e08"/><stop offset="0.6667" stop-color="#226e08"/><stop offset="0.7500" stop-color="#226e08"/><stop offset="0.8333" stop-color="#226e08"/><stop offset="0.9167" stop-color="#226e08"/><stop offset="1.0000" stop-color="#226e08"/></linearGradient>
<linearGradient id="g59" x1="48" x2="768" y1="0" y2="0" gradientUnits="userSpaceOnUse"><stop offset="0.0000" stop-color="#226d08"/><stop offset="0.0833" stop-color="#226d08"/><stop offset="0.1667" stop-color="#226d08"/><stop offset="0.2500" stop-color="#226d08"/><stop offset="0.3333" stop-color="#226d08"/><stop offset="0.4167" stop-color="#226d08"/><stop offset="0.5000" stop-color="#226d08"/><stop offset="0.5833" stop-color="#226d08"/><stop offset="0.6667" stop-color="#226d08"/><stop offset="0.7500" stop-color="#226d08"/><stop offset="0.8333" stop-color="#226d08"/><stop offset="0.9167" stop-color="#226d08"/><stop offset="1.0000" stop-color="#226d08"/></linearGradient>
<linearGradient id="g60" x1="48" x2="768" y1="0" y2="0" gradientUnits="userSpaceOnUse"><stop offset="0.0000" stop-color="#226d08"/><stop offset="0.0833" stop-color="#226d08"/><stop offset="0.1667" stop-color="#226d08"/><stop offset="0.2500" stop-color="#226d08"/><stop offset="0.3333" stop-color="#226d08"/><stop offset="0.4167" stop-color="#226d08"/><stop offset="0.5000" stop-color="#226d08"/><stop offset="0.5833" stop-color="#226d08"/><stop offset="0.6667" stop-color="#226d08"/><stop offset="0.7500" stop-color="#226d08"/><stop offset="0.8333" stop-color="#226d08"/><stop offset="0.9167" stop-color="#226d08"/><stop offset="1.0000" stop-color="#226d08"/></linearGradient>
<linearGradient id="g61" x1="48" x2="768" y1="0" y2="0" gradientUnits="userSpaceOnUse"><stop offset="0.0000" stop-color="#226d08"/><stop offset="0.0833" stop-color="#226d08"/><stop offset="0.1667" stop-color="#226d08"/><stop offset="0.2500" stop-color="#226d08"/><stop offset="0.3333" stop-color="#226d08"/><stop offset="0.4167" stop-color="#226d08"/><stop offset="0.5000" stop-color="#226d08"/><stop offset="0.5833" stop-color="#226d08"/><stop offset="0.6667" stop-color="#226d08"/><stop offset="0.7500" stop-color="#226d08"/><stop offset="0.8333" stop-color="#226d08"/><stop offset="0.9167" stop-color="#226d08"/><stop offset="1.0000" stop-color="#226d08"/></linearGradient>
<linearGradient id="g62" x1="48" x2="768" y1="0" y2="0" gradientUnits="userSpaceOnUse"><stop offset="0.0000" stop-color="#226c08"/><stop offset="0.0833" stop-color="#226c08"/><stop offset="0.1667" stop-color="#226c08"/><stop offset="0.2500" stop-color="#226c08"/><stop offset="0.3333" stop-color="#226c08"/><stop offset="0.4167" stop-color="#226c08"/><stop offset="0.5000" stop-color="#226c08"/><stop offset="0.5833" stop-color="#226c08"/><stop offset="0.6667" stop-color="#226c08"/><stop offset="0.7500" stop-color="#226c08"/><stop offset="0.8333" stop-color="#226c08"/><stop offset="0.9167" stop-color="#226c08"/><stop offset="1.0000" stop-color="#226c08"/></linearGradient>
<linearGradient id="g63" x1="48" x2="768" y1="0" y2="0" gradientUnits="userSpaceOnUse"><stop offset="0.0000" stop-color="#226c08"/><stop offset="0.0833" stop-color="#226c08"/><stop offset="0.1667" stop-color="#226c08"/><stop offset="0.2500" stop-color="#226c08"/><stop offset="0.3333" stop-color="#226c08"/><stop offset="0.4167" stop-color="#226c08"/><stop offset="0.5000" stop-color="#226c08"/><stop offset="0.5833" stop-color="#226c08"/><stop offset="0.6667" stop-color="#226c08"/><stop offset="0.7500" stop-color="#226c08"/><stop offset="0.8333" stop-color="#226c08"/><stop offset="0.9167" stop-color="#226c08"/><stop offset="1.0000" stop-color="#226c08"/></linearGradient>
<linearGradient id="g64" x1="48" x2="768" y1="0" y2="0" gradientUnits="userSpaceOnUse"><stop offset="0.0000" stop-color="#226c08"/><stop offset="0.0833" stop-color="#226c08"/><stop offset="0.1667" stop-color="#226c08"/><stop offset="0.2500" stop-color="#226c08"/><stop offset="0.3333" stop-color="#226c08"/><stop offset="0.4167" stop-color="#226c08"/><stop offset="0.5000" stop-color="#226c08"/><stop offset="0.5833" stop-color="#226c08"/><stop offset="0.6667" stop-color="#226c08"/><stop offset="0.7500" stop-color="#226c08"/><stop offset="0.8333" stop-color="#226c08"/><stop offset="0.9167" stop-color="#226c08"/><stop offset="1.0000" stop-color="#226c08"/></linearGradient>
<linearGradient id="g65" x1="48" x2="768" y1="0" y2="0" gradientUnits="userSpaceOnUse"><stop offset="0.0000" stop-color="#226b08"/><stop offset="0.0833" stop-color="#226b08"/><stop offset="0.1667" stop-color="#226b08"/><stop offset="0.2500" stop-color="#226b08"/><stop offset="0.3333" stop-color="#226b08"/><stop offset="0.4167" stop-color="#226b08"/><stop offset="0.5000" stop-color="#226b08"/><stop offset="0.5833" stop-color="#226b08"/><stop offset="0.6667" stop-color="#226b08"/><stop offset="0.7500" stop-color="#226b08"/><stop offset="0.8333" stop-color="#226b08"/><stop offset="0.9167" stop-color="#226b08"/><stop offset="1.0000" stop-color="#226b08"/></linearGradient>
<linearGradient id="g66" x1="48" x2="768" y1="0" y2="0" gradientUnits="userSpaceOnUse"><stop offset="0.0000" stop-color="#226b08"/><stop offset="0.0833" stop-color="#226b08"/><stop offset="0.1667" stop-color="#226b08"/><stop offset="0.2500" stop-color="#226b08"/><stop offset="0.3333" stop-color="#226b08"/><stop offset="0.4167" stop-color="#226b08"/><stop offset="0.5000" stop-color="#226b08"/><stop offset="0.5833" stop-color="#226b08"/><stop offset="0.6667" stop-color="#226b08"/><stop offset="0.7500" stop-color="#226b08"/><stop offset="0.8333" stop-color="#226b08"/><stop offset="0.9167" stop-color="#226b08"/><stop offset="1.0000" stop-color="#226b08"/></linearGradient>
<linearGradient id="g67" x1="48" x2="768" y1="0" y2="0" gradientUnits="userSpaceOnUse"><stop offset="0.0000" stop-color="#226b08"/><stop offset="0.0833" stop-color="#226b08"/><stop offset="0.1667" stop-color="#226b08"/><stop offset="0.2500" stop-color="#226b08"/><stop offset="0.3333" stop-color="#226b08"/><stop offset="0.4167" stop-color="#226b08"/><stop offset="0.5000" stop-color="#226b08"/><stop offset="0.5833" stop-color="#226b08"/><stop offset="0.6667" stop-color="#226b08"/><stop offset="0.7500" stop-color="#226b08"/><stop offset="0.8333" stop-color="#226b08"/><stop offset="0.9167" stop-color="#226b08"/><stop offset="1.0000" stop-color="#226b08"/></linearGradient>
<linearGradient id="g68" x1="48" x2="768" y1="0" y2="0" gradientUnits="userSpaceOnUse"><stop offset="0.0000" stop-color="#226b08"/><stop offset="0.0833" stop-color="#226b08"/><stop offset="0.1667" stop-color="#226b08"/><stop offset="0.2500" stop-color="#226b08"/><stop offset="0.3333" stop-color="#226b08"/><stop offset="0.4167" stop-color="#226b08"/><stop offset="0.5000" stop-color="#226b08"/><stop offset="0.5833" stop-color="#226b08"/><stop offset="0.6667" stop-color="#226b08"/><stop offset="0.7500" stop-color="#226b08"/><stop offset="0.8333" stop-color="#226b08"/><stop offset="0.9167" stop-color="#226b08"/><stop offset="1.0000" stop-color="#226b08"/></linearGradient>
<linearGradient id="g69" x1="48" x2="768" y1="0" y2="0" gradientUnits="userSpaceOnUse"><stop offset="0.0000" stop-color="#226a08"/><stop offset="0.0833" stop-color="#226a08"/><stop offset="0.1667" stop-color="#226a08"/><stop offset="0.2500" stop-color="#226a08"/><stop offset="0.3333" stop-color="#226a08"/><stop offset="0.4167" stop-color="#226a08"/><stop offset="0.5000" stop-color="#226a08"/><stop offset="0.5833" stop-color="#226a08"/><stop offset="0.6667" stop-color="#226a08"/><stop offset="0.7500" stop-color="#226a08"/><stop offset="0.8333" stop-color="#226a08"/><stop offset="0.9167" stop-color="#226a08"/><stop offset="1.0000" stop-color="#226a08"/></linearGradient>
<linearGradient id="g70" x1="48" x2="768" y1="0" y2="0" gradientUnits="userSpaceOnUse"><stop offset="0.0000" stop-color="#226a08"/><stop offset="0.0833" stop-color="#226a08"/><stop offset="0.1667" stop-color="#226a08"/><stop offset="0.2500" stop-color="#226a08"/><stop offset="0.3333" stop-color="#226a08"/><stop offset="0.4167" stop-color="#226a08"/><stop offset="0.5000" stop-color="#226a08"/><stop offset="0.5833" stop-color="#226a08"/><stop offset="0.6667" stop-color="#226a08"/><stop offset="0.7500" stop-color="#226a08"/><stop offset="0.8333" stop-color="#226a08"/><stop offset="0.9167" stop-color="#226a08"/><stop offset="1.0000" stop-color="#226a08"/></linearGradient>
<linearGradient id="g71" x1="48" x2="768" y1="0" y2="0" gradientUnits="userSpaceOnUse"><stop offset="0.0000" stop-color="#216a08"/><stop offset="0.0833" stop-color="#226a08"/><stop offset="0.1667" stop-color="#226a08"/><stop offset="0.2500" stop-color="#226a08"/><stop offset="0.3333" stop-color="#226a08"/><stop offset="0.4167" stop-color="#226a08"/><stop offset="0.5000" stop-color="#226a08"/><stop offset="0.5833" stop-color="#226a08"/><stop offset="0.6667" stop-color="#226a08"/><stop offset="0.7500" stop-color="#226a08"/><stop offset="0.8333" stop-color="#226a08"/><stop offset="0.9167" stop-color="#226a08"/><stop offset="1.0000" stop-color="#216a08"/></linearGradient>
<linearGradient id="g72" x1="48" x2="768" y1="0" y2="0" gradientUnits="userSpaceOnUse"><stop offset="0.0000" stop-color="#216909"/><stop offset="0.0833" stop-color="#216908"/><stop offset="0.1667" stop-color="#226908"/><stop offset="0.2500" stop-color="#226908"/><stop offset="0.3333" stop-color="#226908"/><stop offset="0.4167" stop-color="#226908"/><stop offset="0.5000" stop-color="#226908"/><stop offset="0.5833" stop-color="#226908"/><stop offset="0.6667" stop-color="#226908"/><stop offset="0.7500" stop-color="#226908"/><stop offset="0.8333" stop-color="#226908"/><stop offset="0.9167" stop-color="#216908"/><stop offset="1.0000" stop-color="#216909"/></linearGradient>
<linearGradient id="g73" x1="48" x2="768" y1="0" y2="0" gradientUnits="userSpaceOnUse"><stop offset="0.0000" stop-color="#206909"/><stop offset="0.0833" stop-color="#216908"/><stop offset="0.1667" stop-color="#226908"/><stop offset="0.2500" stop-color="#226908"/><stop offset="0.3333" stop-color="#226908"/><stop offset="0.4167" stop-color="#226908"/><stop offset="0.5000" stop-color="#226908"/><stop offset="0.5833" stop-color="#226908"/><stop offset="0.6667" stop-color="#226908"/><stop offset="0.7500" stop-color="#226908"/><stop offset="0.8333" stop-color="#226908"/><stop offset="0.9167" stop-color="#216908"/><stop offset="1.0000" stop-color="#206909"/></linearGradient>
<linearGradient id="g74" x1="48" x2="768" y1="0" y2="0" gradientUnits="userSpaceOnUse"><stop offset="0.0000" stop-color="#206909"/><stop offset="0.0833" stop-color="#216908"/><stop offset="0.1667" stop-color="#226908"/><stop offset="0.2500" stop-color="#226908"/><stop offset="0.3333" stop-color="#226908"/><stop offset="0.4167" stop-color="#226908"/><stop offset="0.5000" stop-color="#226908"/><stop offset="0.5833" stop-color="#226908"/><stop offset="0.6667" stop-color="#226908"/><stop offset="0.7500" stop-color="#226908"/><stop offset="0.8333" stop-color="#226908"/><stop offset="0.9167" stop-color="#216908"/><stop offset="1.0000" stop-color="#206909"/></linearGradient>
<linearGradient id="g75" x1="48" x2="768" y1="0" y2="0" gradientUnits="userSpaceOnUse"><stop offset="0.0000" stop-color="#1f680a"/><stop offset="0.0833" stop-color="#206808"/><stop offset="0.1667" stop-color="#226808"/><stop offset="0.2500" stop-color="#226808"/><stop offset="0.3333" stop-color="#226808"/><stop offset="0.4167" stop-color="#226808"/><stop offset="0.5000" stop-color="#226808"/><stop offset="0.5833" stop-color="#226808"/><stop offset="0.6667" stop-color="#226808"/><stop offset="0.7500" stop-color="#226808"/><stop offset="0.8333" stop-color="#226808"/><stop offset="0.9167" stop-color="#206808"/><stop offset="1.0000" stop-color="#1f680a"/></linearGradient>
<linearGradient id="g76" x1="48" x2="768" y1="0" y2="0" gradientUnits="userSpaceOnUse"><stop offset="0.0000" stop-color="#1e680a"/><stop offset="0.0833" stop-color="#206808"/><stop offset="0.1667" stop-color="#226808"/><stop offset="0.2500" stop-color="#226808"/><stop offset="0.3333" stop-color="#226808"/><stop offset="0.4167" stop-color="#226808"/><stop offset="0.5000" stop-color="#226808"/><stop offset="0.5833" stop-color="#226808"/><stop offset="0.6667" stop-color="#226808"/><stop offset="0.7500" stop-color="#226808"/><stop offset="0.8333" stop-color="#226808"/><stop offset="0.9167" stop-color="#206808"/><stop offset="1.0000" stop-color="#1e680a"/></linearGradient>
<linearGradient id="g77" x1="48" x2="768" y1="0" y2="0" gradientUnits="userSpaceOnUse"><stop offset="0.0000" stop-color="#1d680a"/><stop offset="0.0833" stop-color="#1f6808"/><stop offset="0.1667" stop-color="#206808"/><stop offset="0.2500" stop-color="#206708"/><stop offset="0.3333" stop-color="#216708"/><stop offset="0.4167" stop-color="#216708"/><stop offset="0.5000" stop-color="#216709"/><stop offset="0.5833" stop-color="#206809"/><stop offset="0.6667" stop-color="#20680a"/><stop offset="0.7500" stop-color="#20680a"/><stop offset="0.8333" stop-color="#20680a"/><stop offset="0.9167" stop-color="#1e680a"/><stop offset="1.0000" stop-color="#1d680a"/></linearGradient>
<linearGradient id="g78" x1="48" x2="768" y1="0" y2="0" gradientUnits="userSpaceOnUse"><stop offset="0.0000" stop-color="#1c680b"/><stop offset="0.0833" stop-color="#1d6809"/><stop offset="0.1667" stop-color="#1e6708"/><stop offset="0.2500" stop-color="#1d6508"/><stop offset="0.3333" stop-color="#1e6508"/><stop offset="0.4167" stop-color="#206608"/><stop offset="0.5000" stop-color="#1e660c"/><stop offset="0.5833" stop-color="#1e670c"/><stop offset="0.6667" stop-color="#1d680c"/><stop offset="0.7500" stop-color="#1c690d"/><stop offset="0.8333" stop-color="#1c690d"/><stop offset="0.9167" stop-color="#1c690c"/><stop offset="1.0000" stop-color="#1c680b"/></linearGradient>
<linearGradient id="g79" x1="48" x2="768" y1="0" y2="0" gradientUnits="userSpaceOnUse"><stop offset="0.0000" stop-color="#1b680c"/><stop offset="0.0833" stop-color="#1b670a"/><stop offset="0.1667" stop-color="#1a6608"/><stop offset="0.2500" stop-color="#1a6408"/><stop offset="0.3333" stop-color="#1c6408"/><stop offset="0.4167" stop-color="#1f6508"/><stop offset="0.5000" stop-color="#1c650e"/><stop offset="0.5833" stop-color="#1a660e"/><stop offset="0.6667" stop-color="#196810"/><stop offset="0.7500" stop-color="#186a11"/><stop offset="0.8333" stop-color="#186a11"/><stop offset="0.9167" stop-color="#186a10"/><stop offset="1.0000" stop-color="#1b680c"/></linearGradient>
<linearGradient id="g80" x1="48" x2="768" y1="0" y2="0" gradientUnits="userSpaceOnUse"><stop offset="0.0000" stop-color="#19680d"/><stop offset="0.0833" stop-color="#18670b"/><stop offset="0.1667" stop-color="#176608"/><stop offset="0.2500" stop-color="#166208"/><stop offset="0.3333" stop-color="#1a6208"/><stop offset="0.4167" stop-color="#1e6408"/><stop offset="0.5000" stop-color="#196410"/><stop offset="0.5833" stop-color="#176611"/><stop offset="0.6667" stop-color="#156813"/><stop offset="0.7500" stop-color="#146a15"/><stop offset="0.8333" stop-color="#146a15"/><stop offset="0.9167" stop-color="#166a13"/><stop offset="1.0000" stop-color="#19680d"/></linearGradient>
<linearGradient id="g81" x1="48" x2="768" y1="0" y2="0" gradientUnits="userSpaceOnUse"><stop offset="0.0000" stop-color="#146913"/><stop offset="0.0833" stop-color="#14670f"/><stop offset="0.1667" stop-color="#14640b"/><stop offset="0.2500" stop-color="#136109"/><stop offset="0.3333" stop-color="#176108"/><stop offset="0.4167" stop-color="#1b6308"/><stop offset="0.5000" stop-color="#156413"/><stop offset="0.5833" stop-color="#136716"/><stop offset="0.6667" stop-color="#126918"/><stop offset="0.7500" stop-color="#106b1b"/><stop offset="0.8333" stop-color="#106b1b"/><stop offset="0.9167" stop-color="#126a17"/><stop offset="1.0000" stop-color="#146913"/></linearGradient>
<linearGradient id="g82" x1="48" x2="768" y1="0" y2="0" gradientUnits="userSpaceOnUse"><stop offset="0.0000" stop-color="#106919"/><stop offset="0.0833" stop-color="#0f6813"/><stop offset="0.1667" stop-color="#10620d"/><stop offset="0.2500" stop-color="#105f0b"/><stop offset="0.3333" stop-color="#156108"/><stop offset="0.4167" stop-color="#196308"/><stop offset="0.5000" stop-color="#116415"/><stop offset="0.5833" stop-color="#0f671a"/><stop offset="0.6667" stop-color="#0e6b1e"/><stop offset="0.7500" stop-color="#0e6d21"/><stop offset="0.8333" stop-color="#0e6d21"/><stop offset="0.9167" stop-color="#106a1b"/><stop offset="1.0000" stop-color="#106919"/></linearGradient>
<linearGradient id="g83" x1="48" x2="768" y1="0" y2="0" gradientUnits="userSpaceOnUse"><stop offset="0.0000" stop-color="#0b6a1f"/><stop offset="0.0833" stop-color="#0b6817"/><stop offset="0.1667" stop-color="#0d6010"/><stop offset="0.2500" stop-color="#0d5e0c"/><stop offset="0.3333" stop-color="#126008"/><stop offset="0.4167" stop-color="#166208"/><stop offset="0.5000" stop-color="#0d6418"/><stop offset="0.5833" stop-color="#0b681f"/><stop offset="0.6667" stop-color="#0b6c23"/><stop offset="0.7500" stop-color="#0a6e27"/><stop offset="0.8333" stop-color="#0a6e27"/><stop offset="0.9167" stop-color="#0c6a1f"/><stop offset="1.0000" stop-color="#0b6a1f"/></linearGradient>
<linearGradient id="g84" x1="48" x2="768" y1="0" y2="0" gradientUnits="userSpaceOnUse"><stop offset="0.0000" stop-color="#0a6c24"/><stop offset="0.0833" stop-color="#0a6a1c"/><stop offset="0.1667" stop-color="#0c6112"/><stop offset="0.2500" stop-color="#0c5e0c"/><stop offset="0.3333" stop-color="#105f08"/><stop offset="0.4167" stop-color="#146209"/><stop offset="0.5000" stop-color="#0c661a"/><stop offset="0.5833" stop-color="#0a6a24"/><stop offset="0.6667" stop-color="#0a6f29"/><stop offset="0.7500" stop-color="#0a722e"/><stop offset="0.8333" stop-color="#0a712d"/><stop offset="0.9167" stop-color="#0c6c24"/><stop offset="1.0000" stop-color="#0a6c24"/></linearGradient>
<linearGradient id="g85" x1="48" x2="768" y1="0" y2="0" gradientUnits="userSpaceOnUse"><stop offset="0.0000" stop-color="#0a7029"/><stop offset="0.0833" stop-color="#0a6c21"/><stop offset="0.1667" stop-color="#0b6214"/><stop offset="0.2500" stop-color="#0b5d0c"/><stop offset="0.3333" stop-color="#0e5e09"/><stop offset="0.4167" stop-color="#10610a"/><stop offset="0.5000" stop-color="#0b671e"/><stop offset="0.5833" stop-color="#0a6c29"/><stop offset="0.6667" stop-color="#0a732f"/><stop offset="0.7500" stop-color="#0a7635"/><stop offset="0.8333" stop-color="#0a7533"/><stop offset="0.9167" stop-color="#0b7029"/><stop offset="1.0000" stop-color="#0a7029"/></linearGradient>
<linearGradient id="g86" x1="48" x2="768" y1="0" y2="0" gradientUnits="userSpaceOnUse"><stop offset="0.0000" stop-color="#0a722e"/><stop offset="0.0833" stop-color="#0a6f26"/><stop offset="0.1667" stop-color="#0a6317"/><stop offset="0.2500" stop-color="#0a5c0c"/><stop offset="0.3333" stop-color="#0b5d0a"/><stop offset="0.4167" stop-color="#0e600b"/><stop offset="0.5000" stop-color="#0a6920"/><stop offset="0.5833" stop-color="#0a6f2e"/><stop offset="0.6667" stop-color="#0a7635"/><stop offset="0.7500" stop-color="#0a7a3c"/><stop offset="0.8333" stop-color="#0a7839"/><stop offset="0.9167" stop-color="#0a722e"/><stop offset="1.0000" stop-color="#0a722e"/></linearGradient>
<linearGradient id="g87" x1="48" x2="768" y1="0" y2="0" gradientUnits="userSpaceOnUse"><stop offset="0.0000" stop-color="#0a7634"/><stop offset="0.0833" stop-color="#0a722c"/><stop offset="0.1667" stop-color="#0a661c"/><stop offset="0.2500" stop-color="#0a5d0e"/><stop offset="0.3333" stop-color="#0a5c0a"/><stop offset="0.4167" stop-color="#0c600c"/><stop offset="0.5000" stop-color="#0a6b24"/><stop offset="0.5833" stop-color="#0a7232"/><stop offset="0.6667" stop-color="#0a7a3c"/><stop offset="0.7500" stop-color="#0a7e44"/><stop offset="0.8333" stop-color="#0a7c3f"/><stop offset="0.9167" stop-color="#0a7634"/><stop offset="1.0000" stop-color="#0a7634"/></linearGradient>
<linearGradient id="g88" x1="48" x2="768" y1="0" y2="0" gradientUnits="userSpaceOnUse"><stop offset="0.0000" stop-color="#0a7a3b"/><stop offset="0.0833" stop-color="#0a7533"/><stop offset="0.1667" stop-color="#0a6923"/><stop offset="0.2500" stop-color="#0a6011"/><stop offset="0.3333" stop-color="#095b0b"/><stop offset="0.4167" stop-color="#0b5f0d"/><stop offset="0.5000" stop-color="#0a6d28"/><stop offset="0.5833" stop-color="#0a7537"/><stop offset="0.6667" stop-color="#0a7d43"/><stop offset="0.7500" stop-color="#0a824b"/><stop offset="0.8333" stop-color="#0a8045"/><stop offset="0.9167" stop-color="#0a793b"/><stop offset="1.0000" stop-color="#0a7a3b"/></linearGradient>
<linearGradient id="g89" x1="48" x2="768" y1="0" y2="0" gradientUnits="userSpaceOnUse"><stop offset="0.0000" stop-color="#0a7e42"/><stop offset="0.0833" stop-color="#0a793a"/><stop offset="0.1667" stop-color="#0a6d2a"/><stop offset="0.2500" stop-color="#0a6215"/><stop offset="0.3333" stop-color="#085a0c"/><stop offset="0.4167" stop-color="#0a5e0e"/><stop offset="0.5000" stop-color="#0a6e2c"/><stop offset="0.5833" stop-color="#0a793c"/><stop offset="0.6667" stop-color="#0a814a"/><stop offset="0.7500" stop-color="#0a8652"/><stop offset="0.8333" stop-color="#0a844b"/><stop offset="0.9167" stop-color="#0a7d42"/><stop offset="1.0000" stop-color="#0a7e42"/></linearGradient>
<linearGradient id="g90" x1="48" x2="768" y1="0" y2="0" gradientUnits="userSpaceOnUse"><stop offset="0.0000" stop-color="#0a8349"/><stop offset="0.0833" stop-color="#0a7d42"/><stop offset="0.1667" stop-color="#0a7131"/><stop offset="0.2500" stop-color="#0a6519"/><stop offset="0.3333" stop-color="#085a0c"/><stop offset="0.4167" stop-color="#0a5e0e"/><stop offset="0.5000" stop-color="#0a7030"/><stop offset="0.5833" stop-color="#0a7c40"/><stop offset="0.6667" stop-color="#0a8450"/><stop offset="0.7500" stop-color="#0a8a58"/><stop offset="0.8333" stop-color="#0a8851"/><stop offset="0.9167" stop-color="#0a8149"/><stop offset="1.0000" stop-color="#0a8349"/></linearGradient>
<linearGradient id="g91" x1="48" x2="768" y1="0" y2="0" gradientUnits="userSpaceOnUse"><stop offset="0.0000" stop-color="#0b8851"/><stop offset="0.0833" stop-color="#0a834b"/><stop offset="0.1667" stop-color="#0a7638"/><stop offset="0.2500" stop-color="#0a6921"/><stop offset="0.3333" stop-color="#095c0f"/><stop offset="0.4167" stop-color="#0a6010"/><stop offset="0.5000" stop-color="#0a7131"/><stop offset="0.5833" stop-color="#0a7d41"/><stop offset="0.6667" stop-color="#0a8550"/><stop offset="0.7500" stop-color="#0a8b58"/><stop offset="0.8333" stop-color="#0a8b56"/><stop offset="0.9167" stop-color="#0a8651"/><stop offset="1.0000" stop-color="#0b8851"/></linearGradient>
<linearGradient id="g92" x1="48" x2="768" y1="0" y2="0" gradientUnits="userSpaceOnUse"><stop offset="0.0000" stop-color="#0b8e59"/><stop offset="0.0833" stop-color="#0a8955"/><stop offset="0.1667" stop-color="#0a7a40"/><stop offset="0.2500" stop-color="#0a6d29"/><stop offset="0.3333" stop-color="#095e11"/><stop offset="0.4167" stop-color="#0a6212"/><stop offset="0.5000" stop-color="#0a7333"/><stop offset="0.5833" stop-color="#0a7d43"/><stop offset="0.6667" stop-color="#0a8550"/><stop offset="0.7500" stop-color="#0a8b58"/><stop offset="0.8333" stop-color="#0a8d5a"/><stop offset="0.9167" stop-color="#0a8c59"/><stop offset="1.0000" stop-color="#0b8e59"/></linearGradient>
<linearGradient id="g93" x1="48" x2="768" y1="0" y2="0" gradientUnits="userSpaceOnUse"><stop offset="0.0000" stop-color="#0c9361"/><stop offset="0.0833" stop-color="#0a8f5e"/><stop offset="0.1667" stop-color="#0a7f47"/><stop offset="0.2500" stop-color="#0a7131"/><stop offset="0.3333" stop-color="#0a6014"/><stop offset="0.4167" stop-color="#0a6414"/><stop offset="0.5000" stop-color="#0a7434"/><stop offset="0.5833" stop-color="#0a7e44"/><stop offset="0.6667" stop-color="#0a8650"/><stop offset="0.7500" stop-color="#0a8c58"/><stop offset="0.8333" stop-color="#0a905f"/><stop offset="0.9167" stop-color="#0a9161"/><stop offset="1.0000" stop-color="#0c9361"/></linearGradient>
<linearGradient id="g94" x1="48" x2="768" y1="0" y2="0" gradientUnits="userSpaceOnUse"><stop offset="0.0000" stop-color="#0d9866"/><stop offset="0.0833" stop-color="#0b9464"/><stop offset="0.1667" stop-color="#0a854f"/><stop offset="0.2500" stop-color="#0a773a"/><stop offset="0.3333" stop-color="#0a661d"/><stop offset="0.4167" stop-color="#0a681c"/><stop offset="0.5000" stop-color="#0a7739"/><stop offset="0.5833" stop-color="#0a8249"/><stop offset="0.6667" stop-color="#0a8a55"/><stop offset="0.7500" stop-color="#0b905e"/><stop offset="0.8333" stop-color="#0c9566"/><stop offset="0.9167" stop-color="#0c9668"/><stop offset="1.0000" stop-color="#0d9866"/></linearGradient>
<linearGradient id="g95" x1="48" x2="768" y1="0" y2="0" gradientUnits="userSpaceOnUse"><stop offset="0.0000" stop-color="#0e9c6c"/><stop offset="0.0833" stop-color="#0c9869"/><stop offset="0.1667" stop-color="#0b8b57"/><stop offset="0.2500" stop-color="#0a7d42"/><stop offset="0.3333" stop-color="#0a6d28"/><stop offset="0.4167" stop-color="#0a6d26"/><stop offset="0.5000" stop-color="#0a7b3f"/><stop offset="0.5833" stop-color="#0a864f"/><stop offset="0.6667" stop-color="#0b8e5b"/><stop offset="0.7500" stop-color="#0c9564"/><stop offset="0.8333" stop-color="#0d9b6e"/><stop offset="0.9167" stop-color="#0d9c6f"/><stop offset="1.0000" stop-color="#0e9c6c"/></linearGradient>
<linearGradient id="g96" x1="48" x2="768" y1="0" y2="0" gradientUnits="userSpaceOnUse"><stop offset="0.0000" stop-color="#0fa071"/><stop offset="0.0833" stop-color="#0d9c6e"/><stop offset="0.1667" stop-color="#0c9160"/><stop offset="0.2500" stop-color="#0a834c"/><stop offset="0.3333" stop-color="#0a7433"/><stop offset="0.4167" stop-color="#0a722f"/><stop offset="0.5000" stop-color="#0a7e45"/><stop offset="0.5833" stop-color="#0a8a55"/><stop offset="0.6667" stop-color="#0c9261"/><stop offset="0.7500" stop-color="#0d9a6b"/><stop offset="0.8333" stop-color="#0fa176"/><stop offset="0.9167" stop-color="#0fa176"/><stop offset="1.0000" stop-color="#0fa071"/></linearGradient>
<linearGradient id="g97" x1="48" x2="768" y1="0" y2="0" gradientUnits="userSpaceOnUse"><stop offset="0.0000" stop-color="#10a476"/><stop offset="0.0833" stop-color="#0ea072"/><stop offset="0.1667" stop-color="#0d9767"/><stop offset="0.2500" stop-color="#0b8a55"/><stop offset="0.3333" stop-color="#0a7c3e"/><stop offset="0.4167" stop-color="#0a7839"/><stop offset="0.5000" stop-color="#0a834c"/><stop offset="0.5833" stop-color="#0a8f5c"/><stop offset="0.6667" stop-color="#0d9768"/><stop offset="0.7500" stop-color="#0ea073"/><stop offset="0.8333" stop-color="#10a77e"/><stop offset="0.9167" stop-color="#10a67d"/><stop offset="1.0000" stop-color="#10a476"/></linearGradient>
<linearGradient id="g98" x1="48" x2="768" y1="0" y2="0" gradientUnits="userSpaceOnUse"><stop offset="0.0000" stop-color="#10a77b"/><stop offset="0.0833" stop-color="#0fa377"/><stop offset="0.1667" stop-color="#0e9c6e"/><stop offset="0.2500" stop-color="#0c915e"/><stop offset="0.3333" stop-color="#0b834a"/><stop offset="0.4167" stop-color="#0a7f44"/><stop offset="0.5000" stop-color="#0a8953"/><stop offset="0.5833" stop-color="#0b9563"/><stop offset="0.6667" stop-color="#0e9e71"/><stop offset="0.7500" stop-color="#0fa77d"/><stop offset="0.8333" stop-color="#10ad88"/><stop offset="0.9167" stop-color="#10ab84"/><stop offset="1.0000" stop-color="#10a77b"/></linearGradient>
<linearGradient id="g99" x1="48" x2="768" y1="0" y2="0" gradientUnits="userSpaceOnUse"><stop offset="0.0000" stop-color="#10ab80"/><stop offset="0.0833" stop-color="#10a77c"/><stop offset="0.1667" stop-color="#0fa274"/><stop offset="0.2500" stop-color="#0d9868"/><stop offset="0.3333" stop-color="#0c8a56"/><stop offset="0.4167" stop-color="#0a864f"/><stop offset="0.5000" stop-color="#0a8f5a"/><stop offset="0.5833" stop-color="#0c9b6a"/><stop offset="0.6667" stop-color="#0fa479"/><stop offset="0.7500" stop-color="#10ae88"/><stop offset="0.8333" stop-color="#10b390"/><stop offset="0.9167" stop-color="#10b08a"/><stop offset="1.0000" stop-color="#10ab80"/></linearGradient>
<linearGradient id="g100" x1="48" x2="768" y1="0" y2="0" gradientUnits="userSpaceOnUse"><stop offset="0.0000" stop-color="#10ae85"/><stop offset="0.0833" stop-color="#10aa81"/><stop offset="0.1667" stop-color="#10a67b"/><stop offset="0.2500" stop-color="#0e9e71"/><stop offset="0.3333" stop-color="#0c9161"/><stop offset="0.4167" stop-color="#0a8d5a"/><stop offset="0.5000" stop-color="#0a9562"/><stop offset="0.5833" stop-color="#0ca171"/><stop offset="0.6667" stop-color="#10ab81"/><stop offset="0.7500" stop-color="#10b591"/><stop offset="0.8333" stop-color="#10b898"/><stop offset="0.9167" stop-color="#10b490"/><stop offset="1.0000" stop-color="#10ae85"/></linearGradient>
<linearGradient id="g101" x1="48" x2="768" y1="0" y2="0" gradientUnits="userSpaceOnUse"><stop offset="0.0000" stop-color="#10b288"/><stop offset="0.0833" stop-color="#10ae86"/><stop offset="0.1667" stop-color="#10a97f"/><stop offset="0.2500" stop-color="#0fa276"/><stop offset="0.3333" stop-color="#0d9668"/><stop offset="0.4167" stop-color="#0c9363"/><stop offset="0.5000" stop-color="#0c9b6b"/><stop offset="0.5833" stop-color="#0da678"/><stop offset="0.6667" stop-color="#10af88"/><stop offset="0.7500" stop-color="#10b896"/><stop offset="0.8333" stop-color="#10bb9b"/><stop offset="0.9167" stop-color="#10b793"/><stop offset="1.0000" stop-color="#10b288"/></linearGradient>
<linearGradient id="g102" x1="48" x2="768" y1="0" y2="0" gradientUnits="userSpaceOnUse"><stop offset="0.0000" stop-color="#10b48c"/><stop offset="0.0833" stop-color="#10b08a"/><stop offset="0.1667" stop-color="#10ab83"/><stop offset="0.2500" stop-color="#0fa47a"/><stop offset="0.3333" stop-color="#0f9a70"/><stop offset="0.4167" stop-color="#0e996d"/><stop offset="0.5000" stop-color="#0ea175"/><stop offset="0.5833" stop-color="#0faa80"/><stop offset="0.6667" stop-color="#10b390"/><stop offset="0.7500" stop-color="#10bc9a"/><stop offset="0.8333" stop-color="#10bd9d"/><stop offset="0.9167" stop-color="#10b995"/><stop offset="1.0000" stop-color="#10b48c"/></linearGradient>
<linearGradient id="g103" x1="48" x2="768" y1="0" y2="0" gradientUnits="userSpaceOnUse"><stop offset="0.0000" stop-color="#10b88f"/><stop offset="0.0833" stop-color="#10b48f"/><stop offset="0.1667" stop-color="#10ae87"/><stop offset="0.2500" stop-color="#10a87f"/><stop offset="0.3333" stop-color="#109f77"/><stop offset="0.4167" stop-color="#109f76"/><stop offset="0.5000" stop-color="#10a77e"/><stop offset="0.5833" stop-color="#10af87"/><stop offset="0.6667" stop-color="#10b797"/><stop offset="0.7500" stop-color="#10bf9f"/><stop offset="0.8333" stop-color="#10c0a0"/><stop offset="0.9167" stop-color="#10bc98"/><stop offset="1.0000" stop-color="#10b88f"/></linearGradient>
<linearGradient id="g104" x1="48" x2="768" y1="0" y2="0" gradientUnits="userSpaceOnUse"><stop offset="0.0000" stop-color="#0eba93"/><stop offset="0.0833" stop-color="#0eb692"/><stop offset="0.1667" stop-color="#0fb08b"/><stop offset="0.2500" stop-color="#10aa83"/><stop offset="0.3333" stop-color="#10a27c"/><stop offset="0.4167" stop-color="#10a27b"/><stop offset="0.5000" stop-color="#10aa83"/><stop offset="0.5833" stop-color="#10b28a"/><stop offset="0.6667" stop-color="#0fb999"/><stop offset="0.7500" stop-color="#0ec1a1"/><stop offset="0.8333" stop-color="#0ec2a2"/><stop offset="0.9167" stop-color="#0ebe9a"/><stop offset="1.0000" stop-color="#0eba93"/></linearGradient>
<linearGradient id="g105" x1="48" x2="768" y1="0" y2="0" gradientUnits="userSpaceOnUse"><stop offset="0.0000" stop-color="#0cbc97"/><stop offset="0.0833" stop-color="#0db896"/><stop offset="0.1667" stop-color="#0eb38f"/><stop offset="0.2500" stop-color="#10ac87"/><stop offset="0.3333" stop-color="#10a680"/><stop offset="0.4167" stop-color="#10a47f"/><stop offset="0.5000" stop-color="#10ac87"/><stop offset="0.5833" stop-color="#10b38e"/><stop offset="0.6667" stop-color="#0eba9a"/><stop offset="0.7500" stop-color="#0dc2a2"/><stop offset="0.8333" stop-color="#0cc4a4"/><stop offset="0.9167" stop-color="#0cc09e"/><stop offset="1.0000" stop-color="#0cbc97"/></linearGradient>
<linearGradient id="g106" x1="48" x2="768" y1="0" y2="0" gradientUnits="userSpaceOnUse"><stop offset="0.0000" stop-color="#09bf9a"/><stop offset="0.0833" stop-color="#0bbb98"/><stop offset="0.1667" stop-color="#0db692"/><stop offset="0.2500" stop-color="#10af8a"/><stop offset="0.3333" stop-color="#10a884"/><stop offset="0.4167" stop-color="#10a782"/><stop offset="0.5000" stop-color="#10af8a"/><stop offset="0.5833" stop-color="#10b590"/><stop offset="0.6667" stop-color="#0dbb9b"/><stop offset="0.7500" stop-color="#0bc3a3"/><stop offset="0.8333" stop-color="#09c7a7"/><stop offset="0.9167" stop-color="#09c3a0"/><stop offset="1.0000" stop-color="#09bf9a"/></linearGradient>
<linearGradient id="g107" x1="48" x2="768" y1="0" y2="0" gradientUnits="userSpaceOnUse"><stop offset="0.0000" stop-color="#07c19e"/><stop offset="0.0833" stop-color="#09bd9c"/><stop offset="0.1667" stop-color="#0bb896"/><stop offset="0.2500" stop-color="#10b18e"/><stop offset="0.3333" stop-color="#10ac88"/><stop offset="0.4167" stop-color="#10a986"/><stop offset="0.5000" stop-color="#10b18e"/><stop offset="0.5833" stop-color="#10b794"/><stop offset="0.6667" stop-color="#0bbd9d"/><stop offset="0.7500" stop-color="#09c5a5"/><stop offset="0.8333" stop-color="#07c9a9"/><stop offset="0.9167" stop-color="#07c5a4"/><stop offset="1.0000" stop-color="#07c19e"/></linearGradient>
<linearGradient id="g108" x1="48" x2="768" y1="0" y2="0" gradientUnits="userSpaceOnUse"><stop offset="0.0000" stop-color="#04c4a1"/><stop offset="0.0833" stop-color="#07c09e"/><stop offset="0.1667" stop-color="#0abb99"/><stop offset="0.2500" stop-color="#10b491"/><stop offset="0.3333" stop-color="#10ae8c"/><stop offset="0.4167" stop-color="#10ac89"/><stop offset="0.5000" stop-color="#10b491"/><stop offset="0.5833" stop-color="#10b996"/><stop offset="0.6667" stop-color="#0abe9e"/><stop offset="0.7500" stop-color="#07c6a6"/><stop offset="0.8333" stop-color="#04ccac"/><stop offset="0.9167" stop-color="#04c8a6"/><stop offset="1.0000" stop-color="#04c4a1"/></linearGradient>
<linearGradient id="g109" x1="48" x2="768" y1="0" y2="0" gradientUnits="userSpaceOnUse"><stop offset="0.0000" stop-color="#02c6a5"/><stop offset="0.0833" stop-color="#06c2a2"/><stop offset="0.1667" stop-color="#09be9d"/><stop offset="0.2500" stop-color="#10b695"/><stop offset="0.3333" stop-color="#10b290"/><stop offset="0.4167" stop-color="#10ae8d"/><stop offset="0.5000" stop-color="#10b695"/><stop offset="0.5833" stop-color="#10ba9a"/><stop offset="0.6667" stop-color="#09bf9f"/><stop offset="0.7500" stop-color="#06c7a7"/><stop offset="0.8333" stop-color="#02ceae"/><stop offset="0.9167" stop-color="#02caaa"/><stop offset="1.0000" stop-color="#02c6a5"/></linearGradient>
<linearGradient id="g110" x1="48" x2="768" y1="0" y2="0" gradientUnits="userSpaceOnUse"><stop offset="0.0000" stop-color="#00c8a8"/><stop offset="0.0833" stop-color="#04c4a4"/><stop offset="0.1667" stop-color="#08c0a0"/><stop offset="0.2500" stop-color="#10b898"/><stop offset="0.3333" stop-color="#10b494"/><stop offset="0.4167" stop-color="#10b090"/><stop offset="0.5000" stop-color="#10b898"/><stop offset="0.5833" stop-color="#10bc9c"/><stop offset="0.6667" stop-color="#08c0a0"/><stop offset="0.7500" stop-color="#04c8a8"/><stop offset="0.8333" stop-color="#00d0b0"/><stop offset="0.9167" stop-color="#00ccac"/><stop offset="1.0000" stop-color="#00c8a8"/></linearGradient>
<linearGradient id="g111" x1="48" x2="768" y1="0" y2="0" gradientUnits="userSpaceOnUse"><stop offset="0.0000" stop-color="#00c8a8"/><stop offset="0.0833" stop-color="#04c4a4"/><stop offset="0.1667" stop-color="#08c0a0"/><stop offset="0.2500" stop-color="#10b898"/><stop offset="0.3333" stop-color="#10b494"/><stop offset="0.4167" stop-color="#10b090"/><stop offset="0.5000" stop-color="#10b898"/><stop offset="0.5833" stop-color="#10bc9c"/><stop offset="0.6667" stop-color="#08c0a0"/><stop offset="0.7500" stop-color="#04c8a8"/><stop offset="0.8333" stop-color="#00d0b0"/><stop offset="0.9167" stop-color="#00ccac"/><stop offset="1.0000" stop-color="#00c8a8"/></linearGradient>
<linearGradient id="g112" x1="48" x2="768" y1="0" y2="0" gradientUnits="userSpaceOnUse"><stop offset="0.0000" stop-color="#00c8a8"/><stop offset="0.0833" stop-color="#04c4a4"/><stop offset="0.1667" stop-color="#08c0a0"/><stop offset="0.2500" stop-color="#10b898"/><stop offset="0.3333" stop-color="#10b494"/><stop offset="0.4167" stop-color="#10b090"/><stop offset="0.5000" stop-color="#10b898"/><stop offset="0.5833" stop-color="#10bc9c"/><stop offset="0.6667" stop-color="#08c0a0"/><stop offset="0.7500" stop-color="#04c8a8"/><stop offset="0.8333" stop-color="#00d0b0"/><stop offset="0.9167" stop-color="#00ccac"/><stop offset="1.0000" stop-color="#00c8a8"/></linearGradient>
<linearGradient id="g113" x1="48" x2="768" y1="0" y2="0" gradientUnits="userSpaceOnUse"><stop offset="0.0000" stop-color="#00c8a8"/><stop offset="0.0833" stop-color="#04c4a4"/><stop offset="0.1667" stop-color="#08c0a0"/><stop offset="0.2500" stop-color="#10b898"/><stop offset="0.3333" stop-color="#10b494"/><stop offset="0.4167" stop-color="#10b090"/><stop offset="0.5000" stop-color="#10b898"/><stop offset="0.5833" stop-color="#10bc9c"/><stop offset="0.6667" stop-color="#08c0a0"/><stop offset="0.7500" stop-color="#04c8a8"/><stop offset="0.8333" stop-color="#00d0b0"/><stop offset="0.9167" stop-color="#00ccac"/><stop offset="1.0000" stop-color="#00c8a8"/></linearGradient>
<clipPath id="mapclip"><rect x="48" y="93" width="720" height="360"/></clipPath>
<polygon id="sw" points="0,0 -1,8 -2,15.9 -2.95,23.8 -4.4,31.8 -5.8,39.8 -7.4,47.7 -9.2,55.7 -10.55,63.7 -11.8,71.6 -14.7,81 -19.3,96.5 -24.3,112 -29.4,127.5 -32,134 -35,140.2 -34.2,134 -33.2,127.5 -30.7,112 -28.1,96.5 -25.3,81 -22.55,71.6 -20.95,63.7 -19.35,55.7 -17.1,47.7 -14.95,39.8 -12.55,31.8 -9.55,23.8 -6.05,15.9 -2.8,8"/>
</defs>
<!-- map field -->
<g clip-path="url(#mapclip)">
<rect x="48" y="93" width="720" height="360" fill="#2a6e08"/>
<rect x="48" y="102" width="720" height="3.5" fill="url(#g0)"/>
<rect x="48" y="105" width="720" height="3.5" fill="url(#g1)"/>
<rect x="48" y="108" width="720" height="3.5" fill="url(#g2)"/>
<rect x="48" y="111" width="720" height="3.5" fill="url(#g3)"/>
<rect x="48" y="114" width="720" height="3.5" fill="url(#g4)"/>
<rect x="48" y="117" width="720" height="3.5" fill="url(#g5)"/>
<rect x="48" y="120" width="720" height="3.5" fill="url(#g6)"/>
<rect x="48" y="123" width="720" height="3.5" fill="url(#g7)"/>
<rect x="48" y="126" width="720" height="3.5" fill="url(#g8)"/>
<rect x="48" y="129" width="720" height="3.5" fill="url(#g9)"/>
<rect x="48" y="132" width="720" height="3.5" fill="url(#g10)"/>
<rect x="48" y="135" width="720" height="3.5" fill="url(#g11)"/>
<rect x="48" y="138" width="720" height="3.5" fill="url(#g12)"/>
<rect x="48" y="141" width="720" height="3.5" fill="url(#g13)"/>
<rect x="48" y="144" width="720" height="3.5" fill="url(#g14)"/>
<rect x="48" y="147" width="720" height="3.5" fill="url(#g15)"/>
<rect x="48" y="150" width="720" height="3.5" fill="url(#g16)"/>
<rect x="48" y="153" width="720" height="3.5" fill="url(#g17)"/>
<rect x="48" y="156" width="720" height="3.5" fill="url(#g18)"/>
<rect x="48" y="159" width="720" height="3.5" fill="url(#g19)"/>
<rect x="48" y="162" width="720" height="3.5" fill="url(#g20)"/>
<rect x="48" y="165" width="720" height="3.5" fill="url(#g21)"/>
<rect x="48" y="168" width="720" height="3.5" fill="url(#g22)"/>
<rect x="48" y="171" width="720" height="3.5" fill="url(#g23)"/>
<rect x="48" y="174" width="720" height="3.5" fill="url(#g24)"/>
<rect x="48" y="177" width="720" height="3.5" fill="url(#g25)"/>
<rect x="48" y="180" width="720" height="3.5" fill="url(#g26)"/>
<rect x="48" y="183" width="720" height="3.5" fill="url(#g27)"/>
<rect x="48" y="186" width="720" height="3.5" fill="url(#g28)"/>
<rect x="48" y="189" width="720" height="3.5" fill="url(#g29)"/>
<rect x="48" y="192" width="720" height="3.5" fill="url(#g30)"/>
<rect x="48" y="195" width="720" height="3.5" fill="url(#g31)"/>
<rect x="48" y="198" width="720" height="3.5" fill="url(#g32)"/>
<rect x="48" y="201" width="720" height="3.5" fill="url(#g33)"/>
<rect x="48" y="204" width="720" height="3.5" fill="url(#g34)"/>
<rect x="48" y="207" width="720" height="3.5" fill="url(#g35)"/>
<rect x="48" y="210" width="720" height="3.5" fill="url(#g36)"/>
<rect x="48" y="213" width="720" height="3.5" fill="url(#g37)"/>
<rect x="48" y="216" width="720" height="3.5" fill="url(#g38)"/>
<rect x="48" y="219" width="720" height="3.5" fill="url(#g39)"/>
<rect x="48" y="222" width="720" height="3.5" fill="url(#g40)"/>
<rect x="48" y="225" width="720" height="3.5" fill="url(#g41)"/>
<rect x="48" y="228" width="720" height="3.5" fill="url(#g42)"/>
<rect x="48" y="231" width="720" height="3.5" fill="url(#g43)"/>
<rect x="48" y="234" width="720" height="3.5" fill="url(#g44)"/>
<rect x="48" y="237" width="720" height="3.5" fill="url(#g45)"/>
<rect x="48" y="240" width="720" height="3.5" fill="url(#g46)"/>
<rect x="48" y="243" width="720" height="3.5" fill="url(#g47)"/>
<rect x="48" y="246" width="720" height="3.5" fill="url(#g48)"/>
<rect x="48" y="249" width="720" height="3.5" fill="url(#g49)"/>
<rect x="48" y="252" width="720" height="3.5" fill="url(#g50)"/>
<rect x="48" y="255" width="720" height="3.5" fill="url(#g51)"/>
<rect x="48" y="258" width="720" height="3.5" fill="url(#g52)"/>
<rect x="48" y="261" width="720" height="3.5" fill="url(#g53)"/>
<rect x="48" y="264" width="720" height="3.5" fill="url(#g54)"/>
<rect x="48" y="267" width="720" height="3.5" fill="url(#g55)"/>
<rect x="48" y="270" width="720" height="3.5" fill="url(#g56)"/>
<rect x="48" y="273" width="720" height="3.5" fill="url(#g57)"/>
<rect x="48" y="276" width="720" height="3.5" fill="url(#g58)"/>
<rect x="48" y="279" width="720" height="3.5" fill="url(#g59)"/>
<rect x="48" y="282" width="720" height="3.5" fill="url(#g60)"/>
<rect x="48" y="285" width="720" height="3.5" fill="url(#g61)"/>
<rect x="48" y="288" width="720" height="3.5" fill="url(#g62)"/>
<rect x="48" y="291" width="720" height="3.5" fill="url(#g63)"/>
<rect x="48" y="294" width="720" height="3.5" fill="url(#g64)"/>
<rect x="48" y="297" width="720" height="3.5" fill="url(#g65)"/>
<rect x="48" y="300" width="720" height="3.5" fill="url(#g66)"/>
<rect x="48" y="303" width="720" height="3.5" fill="url(#g67)"/>
<rect x="48" y="306" width="720" height="3.5" fill="url(#g68)"/>
<rect x="48" y="309" width="720" height="3.5" fill="url(#g69)"/>
<rect x="48" y="312" width="720" height="3.5" fill="url(#g70)"/>
<rect x="48" y="315" width="720" height="3.5" fill="url(#g71)"/>
<rect x="48" y="318" width="720" height="3.5" fill="url(#g72)"/>
<rect x="48" y="321" width="720" height="3.5" fill="url(#g73)"/>
<rect x="48" y="324" width="720" height="3.5" fill="url(#g74)"/>
<rect x="48" y="327" width="720" height="3.5" fill="url(#g75)"/>
<rect x="48" y="330" width="720" height="3.5" fill="url(#g76)"/>
<rect x="48" y="333" width="720" height="3.5" fill="url(#g77)"/>
<rect x="48" y="336" width="720" height="3.5" fill="url(#g78)"/>
<rect x="48" y="339" width="720" height="3.5" fill="url(#g79)"/>
<rect x="48" y="342" width="720" height="3.5" fill="url(#g80)"/>
<rect x="48" y="345" width="720" height="3.5" fill="url(#g81)"/>
<rect x="48" y="348" width="720" height="3.5" fill="url(#g82)"/>
<rect x="48" y="351" width="720" height="3.5" fill="url(#g83)"/>
<rect x="48" y="354" width="720" height="3.5" fill="url(#g84)"/>
<rect x="48" y="357" width="720" height="3.5" fill="url(#g85)"/>
<rect x="48" y="360" width="720" height="3.5" fill="url(#g86)"/>
<rect x="48" y="363" width="720" height="3.5" fill="url(#g87)"/>
<rect x="48" y="366" width="720" height="3.5" fill="url(#g88)"/>
<rect x="48" y="369" width="720" height="3.5" fill="url(#g89)"/>
<rect x="48" y="372" width="720" height="3.5" fill="url(#g90)"/>
<rect x="48" y="375" width="720" height="3.5" fill="url(#g91)"/>
<rect x="48" y="378" width="720" height="3.5" fill="url(#g92)"/>
<rect x="48" y="381" width="720" height="3.5" fill="url(#g93)"/>
<rect x="48" y="384" width="720" height="3.5" fill="url(#g94)"/>
<rect x="48" y="387" width="720" height="3.5" fill="url(#g95)"/>
<rect x="48" y="390" width="720" height="3.5" fill="url(#g96)"/>
<rect x="48" y="393" width="720" height="3.5" fill="url(#g97)"/>
<rect x="48" y="396" width="720" height="3.5" fill="url(#g98)"/>
<rect x="48" y="399" width="720" height="3.5" fill="url(#g99)"/>
<rect x="48" y="402" width="720" height="3.5" fill="url(#g100)"/>
<rect x="48" y="405" width="720" height="3.5" fill="url(#g101)"/>
<rect x="48" y="408" width="720" height="3.5" fill="url(#g102)"/>
<rect x="48" y="411" width="720" height="3.5" fill="url(#g103)"/>
<rect x="48" y="414" width="720" height="3.5" fill="url(#g104)"/>
<rect x="48" y="417" width="720" height="3.5" fill="url(#g105)"/>
<rect x="48" y="420" width="720" height="3.5" fill="url(#g106)"/>
<rect x="48" y="423" width="720" height="3.5" fill="url(#g107)"/>
<rect x="48" y="426" width="720" height="3.5" fill="url(#g108)"/>
<rect x="48" y="429" width="720" height="3.5" fill="url(#g109)"/>
<rect x="48" y="432" width="720" height="3.5" fill="url(#g110)"/>
<rect x="48" y="435" width="720" height="3.5" fill="url(#g111)"/>
<rect x="48" y="438" width="720" height="3.5" fill="url(#g112)"/>
<rect x="48" y="441" width="720" height="3.5" fill="url(#g113)"/>
<g fill="#000">
<use href="#sw" x="79.9" y="203.4"/>
<use href="#sw" x="130.3" y="202.5"/>
<use href="#sw" x="181.1" y="203"/>
<use href="#sw" x="231" y="202.5"/>
<use href="#sw" x="345" y="202.9"/>
<use href="#sw" x="395.6" y="203"/>
<use href="#sw" x="446.6" y="202.9"/>
<use href="#sw" x="497" y="203.5"/>
<use href="#sw" x="547.1" y="202.9"/>
<use href="#sw" x="697.7" y="203.6"/>
<use href="#sw" x="749.6" y="202.5"/>
<use href="#sw" x="799.9" y="203.4"/>
<polygon points="298.8,174 297.7,185.9 296.7,201.8 295.1,217.8 292,235 289.5,242 287.8,252 285.6,264 283.2,276 280.3,288 277.8,295 274.1,311 268.8,327 261.8,343 252.6,359 243.3,371.6 244.6,359 246.5,343 248.6,327 251,311 253.8,295 256.4,288 259.1,276 261.7,264 264.1,252 266.5,243 269,233.7 271.7,225.7 274.9,217.8 278.9,209.8 282.1,201.8 286.1,193.9 292.4,185.9"/>
<polygon points="656.3,130.4 656.7,140 655.3,160 652.7,180 649.7,200 646.7,215 643.7,235 639.3,255 634.7,275 630.7,295 627,310 619.7,330 610.8,350 601,365 592.2,378.5 585.9,384.1 573.9,392.9 562,400 557.2,401.7 556.4,401 556.4,390 557,380 558,370 560.5,350 563.3,330 567,310 571.5,295 576,275 580.3,255 586,235 592,215 596,210 601,200 606,190 613,180 620,170 628,160 631.1,156.1 604.9,146.3"/>
<rect x="256" y="165" width="5" height="1"/><rect x="266" y="166" width="4" height="1"/><rect x="273" y="167" width="3" height="1"/><rect x="280" y="168" width="1" height="1"/><rect x="285" y="169" width="3" height="1"/><rect x="288" y="170" width="1" height="1"/><rect x="293" y="171" width="7" height="1"/><rect x="243" y="181" width="3" height="1"/><rect x="241" y="183" width="6" height="1"/><rect x="249" y="179" width="7" height="1"/><rect x="250" y="182" width="6" height="1"/><rect x="252" y="184" width="5" height="1"/><rect x="260" y="180" width="3" height="1"/><rect x="261" y="183" width="3" height="1"/><rect x="261" y="185" width="3" height="1"/><rect x="268" y="181" width="2" height="1"/><rect x="268" y="184" width="2" height="1"/><rect x="268" y="186" width="3" height="1"/><rect x="274" y="182" width="2" height="1"/><rect x="274" y="185" width="2" height="1"/><rect x="274" y="187" width="2" height="1"/><rect x="279" y="183" width="2" height="1"/><rect x="279" y="186" width="3" height="1"/><rect x="278" y="188" width="2" height="1"/><rect x="282" y="184" width="4" height="1"/><rect x="283" y="186" width="3" height="1"/><rect x="283" y="189" width="2" height="1"/><rect x="288" y="185" width="2" height="1"/><rect x="286" y="187" width="3" height="1"/><rect x="681" y="300" width="4" height="1"/><rect x="689" y="301" width="3" height="1"/><rect x="693" y="302" width="5" height="1"/><rect x="701" y="303" width="6" height="1"/><rect x="709" y="304" width="8" height="1"/><rect x="717" y="305" width="3" height="1"/><rect x="592" y="382" width="1" height="1"/><rect x="587" y="387" width="1" height="1"/><rect x="582" y="391" width="1" height="1"/><rect x="578" y="393" width="1" height="1"/><rect x="580" y="396" width="1" height="1"/><rect x="572" y="397" width="1" height="1"/><rect x="568" y="400" width="1" height="1"/>
<rect x="48" y="92" width="720" height="10"/>
<rect x="48" y="444" width="720" height="10"/>
</g>
</g>
<g fill="none" stroke="#d8ccd8" stroke-width="1.35" shape-rendering="crispEdges" clip-path="url(#mapclip)">
<path d="M48.0,416.5 L52.2,415.7 L72.2,414.6 L79.6,415.0 L96.5,415.7 L100.7,416.1 L113.3,413.5 L115.5,411.9 L117.6,413.1 L123.9,414.0 L128.1,411.4 L138.6,409.3 L147.1,407.6 L153.4,405.5 L157.6,405.5 L160.8,408.1 L168.2,409.1 L186.1,409.8 L187.1,410.8 L183.9,411.9 L183.9,418.2 L188.2,417.8 L193.4,414.0 L199.8,412.9 L208.2,410.2 L216.6,408.7 L223.0,407.6 L228.0,407.2 L248.0,407.2 L249.1,405.5 L259.6,406.6 L268.0,407.2 L272.3,405.1 L277.5,408.1 L291.2,408.1 L293.3,407.2 L301.8,408.1 L307.0,406.0 L322.9,406.6 L331.3,407.6 L341.8,410.2 L354.5,410.8 L358.7,412.3 L365.0,412.9 L373.4,415.4 L384.0,416.1 L388.2,416.1 L386.1,418.2 L377.7,420.3 L373.4,422.0 L372.4,428.7 L377.7,429.8 L369.2,431.9 L368.8,436.1 L371.3,438.2 L384.0,440.3 L388.2,441.4 L408.0,442.4 L414.3,442.8 L435.4,443.2"/>
<path d="M380.8,428.3 L386.1,428.3"/>
<path d="M460.7,430.6 L464.9,428.9 L471.2,427.4 L477.6,425.3 L488.1,424.3 L494.4,423.2 L513.4,422.6 L534.5,422.8 L542.9,424.3 L561.9,424.3 L568.2,421.1 L574.5,420.1 L588.0,419.6 L596.4,421.1 L609.1,420.5 L617.5,419.0 L619.6,416.9 L625.9,415.8 L630.2,414.8 L632.3,411.6 L630.2,408.5 L636.5,406.3 L639.6,403.2 L644.9,401.1 L651.2,399.4 L655.5,400.0"/>
<path d="M636.5,407.4 L641.8,411.6 L643.9,415.8 L644.5,421.1 L640.7,423.2 L630.2,424.3 L619.6,424.7 L609.1,426.0 L603.8,429.5 L602.8,431.6 L609.1,432.7 L615.4,435.2 L634.4,436.5 L642.8,439.0 L655.5,439.0 L666.0,436.5 L676.5,436.5 L687.1,435.9 L697.6,435.2 L708.2,434.4 L709.2,432.3 L699.7,430.6 L706.0,428.9 L718.7,426.0 L731.3,424.3 L739.8,421.1 L747.1,416.9 L754.5,415.8 L760.9,416.9 L768.0,416.9"/>
<path d="M660.7,432.0 L665.0,429.5 L672.0,429.3 L679.0,430.5 L680.7,432.5 L675.0,434.4 L665.0,434.4 Z"/>
<path d="M440.7,431.6 L450.2,431.6"/>
<path d="M451.2,428.9 L458.6,428.9"/>
<path d="M460.7,431.6 L470.2,432.7 L466.0,434.0 L456.5,435.9 L469.1,435.2"/>
<path d="M444.9,441.6 L452.0,440.6 L460.7,440.1"/>
<path d="M559.8,419.0 L568.2,419.0"/>
<path d="M569.3,418.0 L575.6,418.0"/>
<path d="M513.4,420.5 L517.6,420.5"/>
<path d="M611.2,428.5 L619.6,429.0"/>
<path d="M623.8,431.0 L630.2,431.0"/>
<path d="M617.5,411.6 L628.0,411.6"/>
<path d="M614.3,200.9 L610.6,202.8 L605.0,208.4 L604.0,214.0 L605.9,217.8 L606.8,221.5 L605.0,220.6 L602.2,215.9 L600.3,213.1 L595.6,212.2 L586.2,212.7 L578.7,213.5 L574.0,215.9 L571.6,220.6 L571.2,226.2 L573.1,231.9 L577.8,235.6 L582.5,236.5 L588.1,234.7 L590.0,230.9 L592.8,230.9 L590.9,234.7 L590.0,240.3 L595.6,242.2 L599.3,243.1 L600.3,249.6 L599.3,254.3"/>
<path d="M560.0,235.6 L567.5,238.4 L576.9,240.3 L582.5,242.2 L588.1,245.9 L594.7,249.6 L598.4,254.3 L605.0,257.1 L610.6,256.2 L613.4,258.1 L613.4,263.7 L610.6,269.3 L607.0,275.0 L606.0,280.0 L606.0,283.2 L609.6,289.1 L614.4,299.9 L617.9,304.7 L623.9,307.1 L627.5,309.5 L627.5,316.7 L625.8,327.4 L623.9,339.4 L622.7,346.6 L620.3,356.1 L619.1,365.7 L617.9,372.9 L620.3,378.9 L626.3,381.2 L633.5,383.6 L628.7,380.0 L628.7,375.3 L632.3,370.5 L632.3,365.7 L635.9,362.1 L638.3,357.3 L638.3,352.5 L643.1,351.3 L644.3,348.9 L651.4,347.8 L651.4,341.8 L657.4,340.6 L664.6,335.8 L668.2,331.0 L670.6,325.0 L674.2,321.4 L681.3,319.0 L684.9,314.3 L687.3,308.3 L689.7,301.1 L690.9,297.5 L694.5,293.9 L698.1,289.1 L696.9,284.4 L693.3,280.8 L686.1,278.4 L678.9,278.4 L677.8,276.0 L669.4,274.8 L667.0,272.4 L665.9,268.4 L661.2,263.7 L653.7,261.8 L648.1,257.1 L644.3,253.4 L640.6,253.4 L631.2,252.5 L626.5,250.2 L624.6,255.3 L624.6,250.6 L621.8,250.6 L616.2,253.4 L613.4,258.1"/>
<path d="M645.5,375.3 L651.4,376.5"/>
<path d="M599.3,228.1 L605.0,229.0 L611.0,230.5 L616.2,232.8"/>
<path d="M620.0,234.7 L627.4,235.6"/>
<path d="M633.1,236.9 L636.8,237.5"/>
<path d="M612.5,236.5 L615.3,237.1"/>
<path d="M436.1,135.6 L439.8,137.5 L436.1,139.3 L445.5,140.3 L444.5,143.1 L436.1,143.1 L432.4,143.5 L441.7,145.0 L438.0,148.7 L436.1,150.6 L439.8,152.5 L443.6,154.3 L447.3,156.2 L451.1,156.2 L454.8,154.3 L458.6,152.5 L464.2,150.6 L469.8,151.0 L479.2,152.5 L488.6,153.4 L496.1,155.3 L501.7,158.1 L505.4,161.8 L506.7,164.0 L511.3,168.7 L516.0,173.4 L520.7,174.6 L523.0,178.1 L520.7,180.4 L519.5,185.1 L519.5,193.3 L523.0,198.0 L527.7,203.9 L534.8,209.7 L539.4,214.4 L544.1,219.1 L547.6,224.9 L551.1,227.3 L555.8,230.8 L560.5,235.5"/>
<path d="M537.0,209.7 L541.0,215.0 L543.0,221.0 L546.0,227.0"/>
<path d="M436.4,151.2 L443.4,154.7 L450.4,157.0"/>
<path d="M436.1,135.6 L440.8,133.7 L453.0,131.9 L464.2,132.8 L479.2,133.7 L492.3,135.2 L505.4,134.1 L516.7,134.7 L529.8,135.2 L539.1,135.6 L548.5,136.5 L557.9,137.5 L568.0,138.4 L576.0,139.0 L580.0,141.0 L578.1,145.0 L581.8,146.8"/>
<path d="M408.0,136.5 L415.5,139.3 L423.0,141.2 L426.7,140.3"/>
<path d="M408.0,130.9 L411.0,131.5"/>
<path d="M578.1,150.0 L576.9,154.7 L581.6,159.4 L588.6,160.5 L598.0,162.9 L602.7,166.4 L605.0,171.1 L609.7,169.9 L612.0,164.1 L615.5,160.5 L613.2,154.7 L612.0,150.0 L609.9,148.2"/>
<path d="M580.0,156.4 L586.0,159.4 L592.0,161.7 L597.9,163.2 L602.4,164.7 L603.9,169.9 L606.9,171.4 L609.9,168.4 L612.1,155.7 L615.1,159.4"/>
<path d="M636.8,153.5 L639.8,154.9 L642.8,159.4 L645.8,163.2 L647.3,166.2 L650.3,166.9 L653.2,166.2 L654.7,169.1 L653.2,172.1 L651.7,175.1 L654.7,175.9 L659.2,175.1 L661.5,178.1 L657.7,178.9 L653.2,178.1 L650.3,179.6 L647.3,180.4 L642.8,181.9 L638.3,183.3 L633.8,184.1 L629.3,184.8 L626.3,185.6 L624.8,187.8 L623.3,190.1 L620.4,190.8 L617.4,193.1 L615.9,196.1 L615.1,199.8 L612.9,202.8 L609.9,205.8 L606.9,208.8 L605.4,211.7 L604.7,214.7"/>
<path d="M626.3,176.6 L629.3,174.4 L635.3,172.9 L642.8,171.4 L648.8,172.9 L645.8,175.9 L639.8,175.1 L633.8,175.9 L629.3,179.6 L626.3,180.4"/>
<path d="M603.0,108.6 L612.9,107.7 L627.6,107.7 L630.9,109.0 L642.4,109.4 L645.7,110.2 L650.6,109.8 L655.0,109.4 L663.9,109.0 L675.8,108.0 L687.8,107.6 L699.7,107.0 L707.7,107.6 L719.6,109.0 L729.6,109.6 L743.5,110.0"/>
<path d="M609.6,119.2 L612.9,116.8 L617.8,115.1 L622.7,112.7 L627.6,111.8 L630.9,111.0 L635.8,111.4 L640.7,111.8 L645.7,110.6"/>
<path d="M622.7,117.6 L627.6,116.8 L634.2,117.6 L637.5,120.9 L645.7,120.9 L650.6,122.1 L653.9,124.1"/>
<path d="M585.0,110.2 L593.2,109.8 L603.0,109.0 L609.6,111.0 L611.2,112.7 L601.4,113.5 L594.8,114.3 L588.3,115.1 L585.0,114.5 Z"/>
<path d="M585.0,118.4 L591.6,119.2 L598.1,118.4 L606.3,120.0 L608.0,123.3 L601.4,123.7 L593.2,124.1 L586.6,123.7 Z"/>
<path d="M588.3,129.0 L593.2,126.6 L599.8,127.4 L606.3,126.6 L612.9,127.4 L617.8,129.9 L622.7,131.5 L629.3,133.1 L630.9,134.8 L629.3,136.4 L634.2,138.1 L637.5,139.7 L645.0,141.0 L652.0,140.0 L656.0,137.0"/>
<path d="M585.0,134.8 L589.9,136.4 L596.5,134.8 L601.4,133.1 L606.3,134.0 L612.9,134.8 L617.8,136.4 L621.9,138.9 L621.1,142.0"/>
<path d="M518.0,125.8 L531.0,125.5 L536.0,127.0 L545.0,128.0 L552.0,127.0 L559.0,126.6 L556.0,130.0 L545.0,131.0 L535.0,130.5 L529.0,129.5 L519.0,129.5 Z"/>
<path d="M523.0,119.8 L534.0,119.5 L543.0,122.0 L556.0,121.8 L548.0,123.8 L538.0,124.0 L532.0,122.5 L524.0,122.0 Z"/>
<path d="M557.0,120.5 L565.0,120.0 L572.0,121.0 L570.0,123.0 L560.0,123.3 Z"/>
<path d="M556.0,115.5 L569.0,115.8 L575.0,116.8 L580.0,118.0 L572.0,118.5 L563.0,117.5 Z"/>
<path d="M541.0,117.5 L548.0,117.0 L549.0,118.8 L542.0,119.0 Z"/>
<path d="M563.0,126.6 L570.0,126.0 L575.0,127.5 L573.0,129.5 L565.0,129.5 Z"/>
<path d="M575.7,120.4 L585.0,120.8 L584.0,123.3 L577.0,123.0 Z"/>
<path d="M574.0,112.7 L585.0,112.5 L583.0,114.5 L576.0,114.2 Z"/>
<path d="M578.0,127.0 L585.0,126.8 L586.0,131.0 L580.0,131.5 Z"/>
<path d="M533.0,132.3 L542.0,132.3 L545.0,135.0 L536.0,137.2 L550.0,137.5 L564.0,137.2 L570.0,135.0 L578.0,134.8"/>
<path d="M551.0,138.0 L553.5,141.3"/>
<path d="M567.5,113.5 L569.9,113.5"/>
<path d="M600.0,138.0 L606.0,139.0 L610.0,141.0 L604.0,143.0 L598.0,142.0 Z"/>
<path d="M729.6,110.0 L727.6,112.0 L725.6,115.9 L727.6,119.9 L723.6,123.9 L721.6,127.9 L719.6,129.9 L713.7,131.9 L709.7,133.8 L703.7,136.8 L697.7,137.8 L691.8,139.8 L685.8,142.8 L682.8,147.8 L679.8,151.8 L675.8,152.2 L671.9,150.8 L667.9,147.8 L663.9,143.8 L660.9,139.8 L661.9,135.8 L665.9,134.8 L661.9,131.9 L657.9,129.9 L655.9,125.9 L653.9,122.9 L648.0,120.9 L640.0,119.9 L630.0,118.5"/>
<path d="M719.6,141.8 L725.6,140.8 L731.6,141.4 L739.5,142.8 L735.6,144.8 L727.6,145.8 L721.6,144.2 Z"/>
<path d="M759.5,156.7 L757.5,159.7 L759.5,165.7 L761.4,168.7 L762.0,172.0 L760.0,176.0 L764.0,178.0 L768.0,177.5"/>
<path d="M768.0,158.0 L764.0,156.5 L759.5,156.7"/>
<path d="M748.5,164.7 L753.5,163.7 L755.5,168.7 L751.5,170.7 L748.5,168.7 Z"/>
<path d="M764.6,180.0 L766.6,182.0 L765.6,187.0 L757.0,187.0 L749.7,187.0 L749.7,194.9 L751.7,198.9 L755.7,199.9 L757.7,198.9 L765.6,197.9 L767.6,194.9 L768.0,194.0"/>
<path d="M768.0,187.5 L759.5,186.6 L750.5,187.6"/>
<path d="M768.0,202.7 L767.6,202.9 L757.7,203.5 L753.7,203.9 L749.7,207.9 L747.7,213.8 L743.7,217.8 L739.8,220.8 L736.8,224.8 L734.8,229.8 L735.8,235.7 L734.8,241.7 L735.8,247.7 L739.8,251.6 L742.7,256.6 L747.7,260.6 L753.7,263.6 L759.7,262.6 L767.6,261.6 L768.0,261.5"/>
<path d="M48.0,169.8 L54.0,167.8 L60.0,163.8 L65.9,158.8 L63.9,153.8 L60.0,152.8 L58.0,150.8 L62.0,147.8 L67.9,143.9 L73.9,139.9 L79.9,135.9 L87.9,133.9 L97.8,132.3 L107.8,133.5 L117.8,135.9 L127.7,137.9 L123.7,139.9 L117.8,138.9 L113.8,138.9 L113.8,141.9 L119.8,144.8 L125.7,142.9 L129.7,141.9 L135.7,138.9 L143.7,136.9 L151.6,136.9 L160.0,136.5 L164.6,135.8 L169.1,134.3 L175.2,135.0 L179.8,136.5 L184.4,137.3 L185.1,130.4 L187.4,128.2 L191.2,128.9 L192.0,134.3 L189.7,140.3 L192.7,138.8 L194.3,135.0 L196.5,130.4 L199.6,129.7 L202.6,132.7 L201.1,136.5 L204.9,138.8 L205.7,136.5 L204.1,133.5 L205.7,130.4 L210.2,128.9 L213.3,130.4 L215.6,132.7 L217.1,134.3 L214.8,133.5 L211.8,128.9 L210.2,127.4 L214.8,125.9 L220.9,125.1 L227.0,122.8 L233.1,122.1 L239.2,121.3 L245.2,120.6 L251.3,119.0 L257.4,119.8 L263.5,120.6 L272.6,121.3 L271.1,122.8 L266.6,124.4 L260.5,125.1 L259.0,127.4 L266.6,126.6 L275.7,126.2 L281.8,127.4 L285.0,128.2 L295.7,127.1 L304.8,127.7 L307.1,132.0 L312.4,131.2 L326.1,131.2 L329.1,128.9 L336.8,128.2 L345.9,129.7 L352.0,132.0 L364.2,132.7 L370.2,135.0 L384.0,135.3 L390.0,133.8 L400.7,135.0 L406.8,136.5 L408.0,136.7"/>
<path d="M95.8,141.9 L91.9,142.9 L85.9,146.8 L81.9,149.8 L81.9,156.8 L79.9,159.8 L77.9,161.8 L69.9,161.8 L65.9,159.8"/>
<path d="M87.9,159.8 L89.9,155.8 L95.8,154.8 L107.8,153.8 L105.8,151.8 L97.8,151.4 L93.8,148.8 L91.9,146.8 L97.8,142.9"/>
<path d="M48.0,175.6 L50.6,174.3 L53.2,171.7 L55.7,169.8 L58.3,167.9 L63.5,166.6 L66.7,164.7 L66.0,161.4 L64.7,160.2"/>
<path d="M48.0,167.9 L49.9,169.2 L48.0,171.1"/>
<path d="M69.9,114.0 L77.9,115.0 L87.9,114.0 L101.8,113.6 L91.9,117.9 L79.9,118.9 L73.9,116.9 Z"/>
<path d="M167.6,122.9 L159.6,124.9 L153.6,128.9 L157.6,131.9 L167.6,129.9"/>
<path d="M160.0,124.4 L166.1,122.1 L175.2,120.6 L184.4,119.8"/>
<path d="M233.1,112.2 L239.2,111.4 L245.2,114.5 L251.3,115.2 L257.4,116.0"/>
<path d="M137.7,112.5 L142.0,112.5"/>
<path d="M147.0,112.3 L152.0,112.0"/>
<path d="M156.0,112.5 L162.0,112.0"/>
<path d="M322.3,122.8 L336.8,122.5 L340.6,123.6 L345.9,123.6"/>
<path d="M405.3,131.2 L411.4,131.2"/>
<path d="M48.0,192.0 L53.4,188.4 L58.8,186.6 L65.0,183.9 L68.6,186.6 L71.3,183.0 L73.0,185.0 L76.0,188.0 L79.0,191.5 L82.5,194.5 L86.0,197.5 L88.0,199.5 L90.0,197.0 L91.8,195.0 L88.0,193.0 L84.0,190.0 L80.0,186.5 L76.7,182.5 L80.0,183.0 L84.0,186.0 L88.0,189.0 L91.9,192.0 L94.0,194.0 L97.0,195.0 L100.0,193.0 L101.8,192.0 L103.6,188.4 L103.6,186.6"/>
<path d="M100.6,192.0 L103.8,192.0 L111.7,191.2 L119.7,192.0 L129.3,191.2 L130.9,188.8 L127.7,186.4 L119.7,185.6 L114.9,181.6 L108.6,180.0"/>
<path d="M103.8,183.7 L107.8,179.7 L113.8,178.7 L117.8,181.7 L123.7,179.7 L126.7,178.7 L127.7,183.7 L131.7,187.7 L127.7,191.7 L117.8,190.7 L107.8,189.7 L103.8,187.7 Z"/>
<path d="M100.6,192.7 L95.8,197.5 L99.0,199.1 L105.4,199.9 L114.9,199.1 L120.5,199.9 L119.7,202.3 L116.5,203.9 L113.3,207.1 L111.7,211.1"/>
<path d="M48.0,200.7 L52.8,200.7 L60.7,199.9 L67.1,199.9 L68.7,203.9 L70.3,207.1 L75.1,207.9 L79.9,210.3 L86.2,212.7 L89.4,208.7 L95.8,209.5 L103.8,211.1 L111.7,211.9 L114.9,216.7 L118.1,221.4 L121.3,226.2 L124.5,231.0 L127.7,237.4 L130.9,243.7 L133.4,246.6 L137.8,246.6 L144.3,244.4 L148.7,242.2 L153.1,241.1 L148.7,242.2 L147.6,245.0 L148.7,252.0 L147.6,256.4 L144.3,260.8 L140.0,265.2 L135.6,269.6 L131.2,275.0 L126.8,281.6 L125.7,287.1 L126.8,291.5 L127.9,296.9 L127.9,303.5 L125.7,307.9 L120.3,312.3 L117.0,315.5 L118.1,321.0 L112.6,324.3 L110.4,330.9 L104.9,336.3 L98.4,340.7 L91.8,341.8 L85.2,340.7 L84.1,336.3 L82.0,329.8 L78.7,323.2 L75.4,315.5 L72.1,310.1 L72.1,304.6 L75.4,299.1 L75.4,292.6 L74.3,284.9 L71.0,281.6 L66.6,275.0 L68.8,268.5 L66.6,264.1 L61.1,263.0 L56.8,260.4 L48.0,260.8"/>
<path d="M113.3,213.5 L118.1,218.2 L122.9,224.6 L127.7,231.0 L132.5,239.0 L135.6,245.3 L137.2,248.5 L143.6,246.1 L150.0,243.7 L156.4,240.6 L162.7,237.4 L165.1,232.6 L165.9,227.8 L162.7,224.6 L159.6,221.4 L158.0,219.8 L153.2,218.2 L150.0,215.9 L146.8,213.5 L143.6,212.7 L144.4,216.7 L146.8,220.6 L150.0,223.0 L153.2,224.6 L158.0,223.8 L161.1,222.2 L164.3,219.8 L168.0,221.4 L174.3,222.2 L179.7,221.6 L182.4,224.0 L186.0,227.5 L188.7,229.3 L192.3,228.4 L193.2,232.9 L195.0,237.4 L197.7,243.7 L200.4,250.0 L202.2,255.3 L203.9,256.2 L205.7,253.5 L207.5,247.3 L207.5,241.9 L210.2,239.2 L213.8,236.5 L217.4,233.8 L221.0,231.1 L224.6,229.3 L229.1,227.5 L231.7,229.3 L235.3,233.8 L237.1,237.4 L237.1,241.0 L240.7,240.1 L243.4,241.9 L244.3,248.2 L246.1,251.7 L245.2,255.3 L246.1,258.9 L249.7,262.5 L253.3,265.2 L255.5,270.0"/>
<path d="M147.6,299.1 L144.3,303.5 L141.1,310.1 L140.0,318.8 L137.8,323.2 L135.6,321.0 L136.7,314.4 L135.6,310.1 L138.9,305.7 L144.3,302.4 Z"/>
<path d="M207.5,255.3 L210.2,257.0 L209.5,260.7 L207.5,259.0 Z"/>
<path d="M247.9,247.3 L251.5,246.4 L255.1,249.1 L257.8,253.5 L260.4,255.3 L263.1,251.7 L265.8,248.2 L264.9,242.8 L262.2,239.2 L259.6,235.6 L258.7,232.0 L262.2,230.2 L267.6,228.4 L273.0,228.4 L280.0,226.6 L281.5,224.4 L286.9,221.7 L289.6,218.2 L290.5,212.8 L291.4,207.4 L288.7,203.8 L286.9,198.4 L283.3,196.6 L282.4,193.9 L286.9,193.0 L291.4,191.3 L292.3,193.0 L298.6,193.0 L300.4,196.6 L302.2,197.5 L300.4,202.0 L302.2,203.8 L305.7,202.9 L304.8,198.4 L303.0,194.8 L304.8,191.3 L308.4,187.7 L313.8,185.0 L319.2,181.4 L322.8,178.7 L326.4,176.9 L328.2,171.5 L329.1,167.9 L326.4,166.1 L321.9,166.1 L319.2,163.5 L322.8,160.8 L328.2,158.1 L333.5,155.4 L340.7,154.5 L349.7,153.6 L356.9,151.8 L360.4,150.0 L367.2,149.5 L376.3,148.0 L373.3,151.8 L370.2,154.8 L364.2,158.6"/>
<path d="M323.1,159.4 L330.7,154.8 L345.9,153.3 L352.0,154.0 L358.1,150.2"/>
<path d="M376.3,153.3 L385.5,151.8 L394.6,149.5 L402.2,147.2 L406.8,145.7 L403.7,144.1 L408.3,142.6 L409.8,140.3 L415.0,141.1"/>
<path d="M331.7,166.1 L332.6,169.7 L333.5,175.1 L332.6,180.5 L334.4,176.9 L333.5,169.7"/>
<path d="M327.3,188.6 L330.9,184.1 L333.5,185.0 L337.1,186.8 L331.7,188.6 Z"/>
<path d="M329.1,190.4 L330.0,194.8 L328.2,199.3 L324.6,202.0 L319.2,203.8 L313.8,204.7 L310.2,206.5 L308.4,209.2 L310.2,207.4 L315.6,206.5 L321.0,204.7 L326.4,202.9 L329.1,200.2 L330.9,195.7 L330.0,191.3"/>
<path d="M359.6,163.5 L360.4,167.9 L362.2,170.6 L367.6,166.1 L372.1,162.6 L373.0,159.0 L374.8,153.6 L367.6,155.4 L364.0,159.0 L360.4,161.7 Z"/>
<path d="M240.0,237.8 L242.8,240.6 L245.6,246.2 L245.6,256.1 L248.4,258.9 L252.0,264.0 L255.5,270.0"/>
<path d="M258.3,235.0 L260.4,237.8 L263.9,240.6 L266.0,244.8 L264.6,249.1 L261.1,251.9 L257.6,254.7"/>
<path d="M240.0,263.1 L244.2,267.3 L248.4,271.5 L252.6,275.7 L256.2,280.0 L258.3,283.5 L256.9,278.6 L254.1,274.3 L249.8,269.4 L245.6,264.5 L241.4,262.4 Z"/>
<path d="M259.7,286.3 L265.3,287.7 L272.3,288.4 L277.9,289.8 L272.3,289.1 L265.3,288.4 Z"/>
<path d="M266.7,271.5 L270.2,268.7 L273.7,265.9 L277.9,263.1 L281.5,261.0 L285.0,263.1 L283.6,268.7 L282.2,274.3 L279.3,278.6 L275.1,280.0 L270.2,277.9 L267.4,275.7 Z"/>
<path d="M287.8,237.8 L290.6,242.0 L293.4,246.2 L296.2,249.1 L299.0,253.3 L300.4,257.5 L297.6,260.3 L293.4,258.2 L292.0,253.3 L289.2,247.6 L286.4,243.4 Z"/>
<path d="M289.2,272.9 L296.2,271.5 L293.4,275.0 L290.6,280.0 L293.4,283.5 L286.4,280.0"/>
<path d="M310.3,275.7 L315.9,277.2 L324.3,277.9 L329.9,280.0 L335.5,282.8 L341.2,287.0 L345.4,291.2 L348.2,294.0 L344.0,292.6 L338.4,291.2 L332.7,291.2 L328.5,289.8 L325.7,287.0 L322.9,282.8 L318.7,281.4 L313.1,280.0 Z"/>
<path d="M281.0,290.0 L286.0,291.0 L291.0,290.5"/>
<path d="M296.0,291.5 L300.0,292.0"/>
<path d="M352.0,280.0 L356.0,282.0"/>
<path d="M360.0,286.0 L364.0,287.5"/>
<path d="M318.6,302.0 L315.0,297.2 L310.2,297.2 L307.8,300.8 L305.4,302.5 L301.8,302.0 L298.2,304.3 L294.7,307.9 L292.3,310.3 L289.9,312.7 L286.3,313.9 L281.5,315.1 L277.9,317.5 L275.5,319.3 L274.9,323.5 L275.5,327.0 L277.9,330.6 L279.1,335.4 L279.1,340.2 L281.5,342.6 L286.3,341.4 L292.3,340.2 L295.9,338.4 L299.4,337.2 L305.4,336.0 L311.4,336.6 L316.2,337.8 L317.6,338.4 L320.3,341.1 L323.0,337.5 L323.9,340.2 L326.6,343.8 L329.3,347.4 L333.8,349.2 L337.4,348.3 L340.0,349.2 L342.7,348.3 L346.3,347.4 L348.1,343.8 L350.8,338.4 L353.5,333.0 L353.5,325.8 L350.8,321.4 L346.3,316.9 L342.7,313.3 L339.2,309.7 L337.4,304.3 L334.7,300.8 L333.8,295.4 L332.0,297.2 L331.1,303.4 L328.4,307.9 L323.0,307.9 L318.5,305.2 L318.5,299.0 L318.6,302.0"/>
<path d="M337.4,353.6 L342.7,353.6 L343.6,357.2 L340.9,359.9 L338.3,358.1 Z"/>
<path d="M394.7,342.9 L398.3,348.3 L403.7,350.0 L400.1,352.7 L397.4,356.3 L395.6,351.8 L394.7,347.4"/>
<path d="M394.7,356.3 L391.1,359.0 L386.6,361.7 L382.2,364.4 L384.0,367.1 L388.4,364.4 L392.9,360.8 L395.6,357.2"/>
<path d="M622.0,137.0 L630.0,136.0 L638.0,139.0 L644.0,141.0 L640.0,145.0 L632.0,146.0 L626.0,148.0 L622.0,144.0 Z"/>
<path d="M630.0,147.0 L636.0,146.0 L640.0,149.0 L634.0,151.0 Z"/>
<path d="M612.0,140.0 L618.0,139.5 L622.0,141.0 L617.0,143.0 Z"/>
<path d="M448.0,229.6 L450.0,231.0 L452.5,232.5 L455.0,234.0 L456.3,235.5"/>
<path d="M424.9,300.4 L426.0,301.0"/>
<path d="M471.2,303.4 L472.5,303.4"/>
<path d="M488.1,290.7 L489.5,291.3"/>
<path d="M486.2,291.6 L487.5,292.0"/>
<path d="M403.2,308.5 L405.0,309.5"/>
<path d="M381.2,305.1 L382.5,305.6"/>
<path d="M423.6,300.0 L425.0,300.5"/>
<path d="M365.0,290.0 L366.5,291.0"/>
<path d="M370.0,296.0 L371.5,296.5"/>
<path d="M458.5,326.0 L460.0,327.0"/>
<path d="M455.0,152.5 L451.0,155.0 L447.0,158.5 L443.5,162.5"/>
<path d="M428.7,160.2 L429.8,160.6"/>
<path d="M434.3,166.2 L435.5,166.5"/>
<path d="M417.5,169.6 L419.0,169.8"/>
<path d="M405.3,170.3 L406.5,170.5"/>
<path d="M383.7,164.3 L384.8,164.5"/>
<path d="M438.0,164.3 L439.2,164.6"/>
</g>
<!-- frame -->
<rect x="47.5" y="92.5" width="721" height="361" fill="none" stroke="#000" stroke-width="1"/>
<!-- ticks -->
<g stroke="#000" stroke-width="1.2">
<path d="M48.5 89v4M168.5 89v4M288.5 89v4M408.5 89v4M528.5 89v4M648.5 89v4M768.5 89v4"/>
<path d="M48.5 454v3M168.5 454v3M288.5 454v3M408.5 454v3M528.5 454v3M648.5 454v3M768.5 454v3"/>
<path d="M44 153.5h4M44 213.5h4M44 273.5h4M44 333.5h4M44 393.5h4"/>
<path d="M768 153.5h4M768 213.5h4M768 273.5h4M768 333.5h4M768 393.5h4"/>
</g>
<g font-family="Liberation Sans, Arial, sans-serif" font-weight="bold" font-size="11.5" text-anchor="end">
<text x="41" y="158">60N</text>
<text x="41" y="218">30N</text>
<text x="41" y="278">EQ</text>
<text x="41" y="338">30S</text>
<text x="41" y="398">60S</text>
</g>
<g font-family="Liberation Sans, Arial, sans-serif" font-weight="bold" font-size="11.5" text-anchor="middle">
<text x="48.5" y="467">0</text>
<text x="168.5" y="467">60E</text>
<text x="288.5" y="467">120E</text>
<text x="408.5" y="467">180</text>
<text x="528.5" y="467">120W</text>
<text x="648.5" y="467">60W</text>
<text x="768.5" y="467">0</text>
</g>
<!-- arrow at top -->
<rect x="408" y="93" width="2" height="9" fill="#fff"/><g stroke="#fff" stroke-width="1" fill="none"><path d="M411.5 97.5h17.5M411.5 97.5l4.3 -3.4M411.5 97.5l4.3 3.4"/></g>
<!-- colorbar -->
<rect x="807.5" y="104.5" width="11" height="382" fill="url(#cbar)" stroke="#000" stroke-width="1"/>
<g stroke="#000" stroke-width="1.2">
<path d="M804 139.5h6M804 179.5h6M804 219.5h6M804 259.5h6M804 299.5h6M804 339.5h6M804 379.5h6M804 419.5h6M804 459.5h6"/>
<path d="M816 125.5h6M816 165.5h6M816 205.5h6M816 245.5h6M816 285.5h6M816 325.5h6M816 365.5h6M816 405.5h6M816 445.5h6M816 485.5h6"/>
</g>
<g font-family="Liberation Sans, Arial, sans-serif" font-size="11" text-anchor="end">
<text x="800" y="144">20</text>
<text x="800" y="184">0</text>
<text x="800" y="224">-20</text>
<text x="800" y="264">-40</text>
<text x="800" y="304">-60</text>
<text x="800" y="344">-80</text>
<text x="800" y="384">-100</text>
<text x="800" y="424">-120</text>
<text x="800" y="464">-140</text>
</g>
<g font-family="Liberation Sans, Arial, sans-serif" font-size="11">
<text x="823.5" y="130">300</text>
<text x="823.5" y="170">280</text>
<text x="823.5" y="210">260</text>
<text x="823.5" y="250">240</text>
<text x="823.5" y="290">220</text>
<text x="823.5" y="330">200</text>
<text x="823.5" y="370">180</text>
<text x="823.5" y="410">160</text>
<text x="823.5" y="450">140</text>
<text x="823.5" y="490">120</text>
</g>
<text x="782" y="97" font-family="Liberation Sans, Arial, sans-serif" font-size="12" xml:space="preserve">(C)  Tb  (K)</text>
</svg>

<div class="t" id="t1">NOAA-15 AMSU-A Brightness Temperatures</div>
<div class="t" id="t2">Descending passes for channel 12 (57290.33 ± 322.2 ± 22 MHz, 10 hPa)</div>
<div class="t" id="t3">For the 24-hour period beginning 2025-04-11 (101) at 00:00 UTC</div>
<div id="copy">Copyright © 2025 The University of Alabama in Huntsville.&nbsp; All rights reserved</div>

<div id="tlmark" style="position:absolute;left:18px;top:0;width:2px;height:1px;background:#000"></div>
<!-- NASA logo -->
<svg width="90" height="90" viewBox="0 0 90 90" style="left:0;top:0">
<circle cx="42.8" cy="40.5" r="28" fill="#0b3d91"/>
<ellipse cx="44.5" cy="40" rx="7.5" ry="23" transform="rotate(-42 44.5 40)" fill="none" stroke="#fff" stroke-width="1.1"/>
<g fill="#fff"><circle cx="42.3" cy="18.4" r=".7"/><circle cx="49" cy="17.5" r=".6"/><circle cx="47.5" cy="20.5" r=".6"/><circle cx="35" cy="21.5" r=".5"/><circle cx="37.5" cy="25.5" r=".6"/><circle cx="52" cy="22.5" r=".5"/><circle cx="33" cy="27" r=".5"/><circle cx="60" cy="50" r=".6"/><circle cx="24" cy="55" r=".5"/><circle cx="29" cy="58" r=".6"/><circle cx="33" cy="61" r=".5"/><circle cx="62" cy="48" r=".5"/><circle cx="57" cy="55" r=".6"/><circle cx="46" cy="63" r=".5"/><circle cx="38" cy="64" r=".5"/></g>
<text x="43.5" y="45.6" text-anchor="middle" font-family="Liberation Sans, Arial, sans-serif" font-weight="bold" font-size="14" fill="#fff" stroke="#fff" stroke-width="0.4" textLength="48" lengthAdjust="spacingAndGlyphs">NASA</text>
<path d="M79.7,16.2 L69.9,24.8 L63.9,27.8 L57.9,30.5 L51.9,32.9 L46,35 L13,48.3 L13.3,49.9 L46,37.2 L53,35.2 L19.6,65.3 L21.3,65.9 L60,34 L66,30.5 L72,26 Z" fill="#fc2030"/>
<text x="45.7" y="80.8" text-anchor="middle" font-family="Liberation Sans, Arial, sans-serif" font-weight="bold" font-size="11.2" textLength="31.5" lengthAdjust="spacingAndGlyphs">MSFC</text>
</svg>

<!-- GHRC logo -->
<svg width="170" height="80" viewBox="684 0 170 80" style="left:684px;top:0">
<defs><radialGradient id="glb" cx="0.42" cy="0.4" r="0.62"><stop offset="0" stop-color="#7cc8f2"/><stop offset="0.6" stop-color="#2c9ad8"/><stop offset="1" stop-color="#1570b8"/></radialGradient></defs>
<g font-family="Liberation Sans, Arial, sans-serif" font-size="66" stroke="#fff" stroke-width="1.2">
<text transform="translate(686.3 59.7) scale(1.12 1.04)">G</text>
<text transform="translate(734.1 59.5) scale(0.87 1.0)">H</text>
<text transform="translate(770.3 59.5) scale(0.78 1.0)">R</text>
<text transform="rotate(-33 827 37) translate(803.5 60.5)" stroke-width="0.5">C</text>
</g>
<path d="M822.5 64 Q823 59.5 828.2 59.5 Q833.5 59.5 834 64 Z" fill="#000"/>
<circle cx="826.4" cy="35.9" r="18.6" fill="#fff"/>
<circle cx="826.4" cy="35.9" r="17.4" fill="url(#glb)"/>
<g stroke="#8fd0f4" stroke-width="0.5" fill="none" opacity="0.7"><path d="M812 30 Q826 40 840 30M811 38 Q826 48 842 38M814 46 Q826 54 839 46M820 19 Q814 36 821 52M830 19 Q838 36 832 52"/></g>
<path d="M813,27 L818,24 L824,25 L828,28 L827,32 L824,35 L826,38 L822,37 L818,33 L814,31 Z M829,35.5 L834,35 L837,38 L836,42 L833,46 L831,47 L830,42 L828,38 Z" fill="#e8f4fb"/>
<text x="690" y="71.2" font-family="Liberation Sans, Arial, sans-serif" font-weight="bold" font-size="8.2" fill="#333" textLength="130.4" lengthAdjust="spacingAndGlyphs"><tspan fill="#2a7ab8">G</tspan>lobal <tspan fill="#2a7ab8">H</tspan>ydrology <tspan fill="#2a7ab8">R</tspan>esource <tspan fill="#2a7ab8">C</tspan>enter</text>
</svg>
</body></html>
